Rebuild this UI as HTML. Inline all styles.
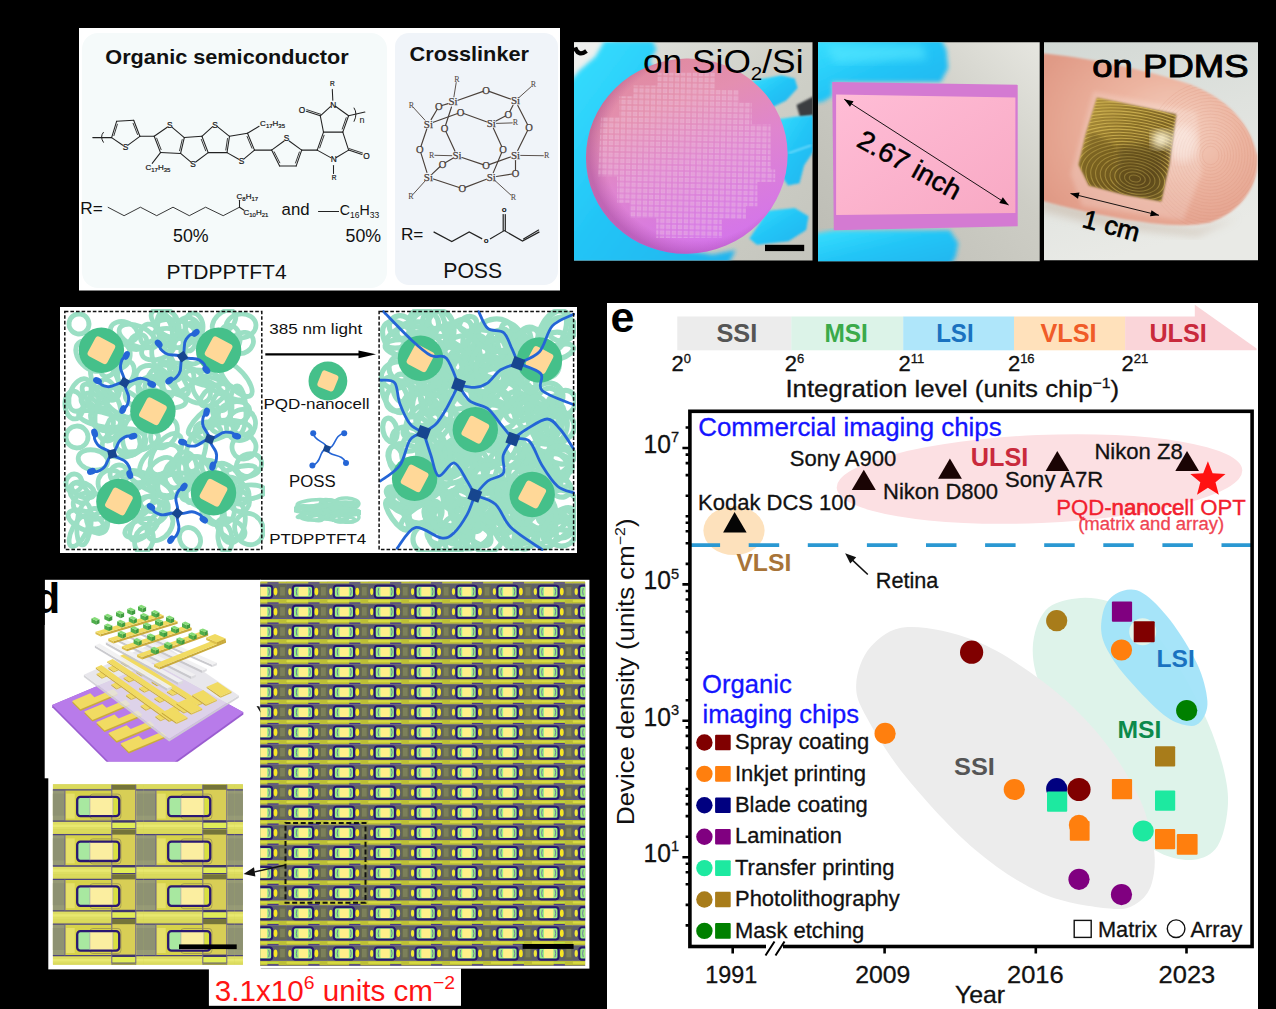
<!DOCTYPE html>
<html>
<head>
<meta charset="utf-8">
<title>Figure</title>
<style>
html,body{margin:0;padding:0;background:#000;}
body{width:1276px;height:1009px;overflow:hidden;position:relative;font-family:"Liberation Sans",sans-serif;}
svg{position:absolute;left:0;top:0;display:block;}
text{font-family:"Liberation Sans",sans-serif;}
.b{font-weight:bold;}
</style>
</head>
<body>
<svg width="1276" height="1009" viewBox="0 0 1276 1009">
<defs>
<filter id="bl1" x="-5%" y="-5%" width="110%" height="110%"><feGaussianBlur stdDeviation="1"/></filter>
<filter id="bl2" x="-5%" y="-5%" width="110%" height="110%"><feGaussianBlur stdDeviation="2"/></filter>
<filter id="bl4" x="-10%" y="-10%" width="120%" height="120%"><feGaussianBlur stdDeviation="4"/></filter>
<filter id="bl8" x="-20%" y="-20%" width="140%" height="140%"><feGaussianBlur stdDeviation="8"/></filter>
</defs>
<rect x="0" y="0" width="1276" height="1009" fill="#000"/>

<!-- ================= PANEL A ================= -->
<g id="panelA">
<rect x="79" y="28" width="481" height="262.5" fill="#fff"/>
<rect x="82" y="33" width="305" height="255" rx="16" fill="#f5fafa"/>
<rect x="395" y="33" width="163" height="252" rx="14" fill="#f0f4f9"/>
<line x1="111.6" y1="137.6" x2="116.6" y2="121.3" stroke="#222" stroke-width="1.05" stroke-linecap="round"/>
<line x1="113.9" y1="135.6" x2="117.4" y2="124.2" stroke="#222" stroke-width="0.9" stroke-linecap="round"/>
<line x1="116.6" y1="121.3" x2="133.7" y2="120.3" stroke="#222" stroke-width="1.05" stroke-linecap="round"/>
<line x1="133.7" y1="120.3" x2="139.9" y2="136.3" stroke="#222" stroke-width="1.05" stroke-linecap="round"/>
<line x1="133.1" y1="123.3" x2="137.5" y2="134.5" stroke="#222" stroke-width="0.9" stroke-linecap="round"/>
<line x1="139.9" y1="136.3" x2="128.0" y2="145.2" stroke="#222" stroke-width="1.05" stroke-linecap="round"/>
<line x1="122.8" y1="145.3" x2="111.6" y2="137.6" stroke="#222" stroke-width="1.05" stroke-linecap="round"/>
<line x1="92.8" y1="137.6" x2="111.6" y2="137.6" stroke="#222" stroke-width="1.05" stroke-linecap="round"/>
<line x1="139.9" y1="136.3" x2="154.2" y2="136.3" stroke="#222" stroke-width="1.05" stroke-linecap="round"/>
<line x1="154.2" y1="136.3" x2="167.2" y2="127.2" stroke="#222" stroke-width="1.05" stroke-linecap="round"/>
<line x1="172.2" y1="127.4" x2="184.3" y2="137.6" stroke="#222" stroke-width="1.05" stroke-linecap="round"/>
<line x1="184.3" y1="137.6" x2="180.6" y2="153.4" stroke="#222" stroke-width="1.05" stroke-linecap="round"/>
<line x1="182.2" y1="139.6" x2="179.6" y2="150.7" stroke="#222" stroke-width="0.9" stroke-linecap="round"/>
<line x1="180.6" y1="153.4" x2="160.5" y2="152.6" stroke="#222" stroke-width="1.05" stroke-linecap="round"/>
<line x1="160.5" y1="152.6" x2="154.2" y2="136.3" stroke="#222" stroke-width="1.05" stroke-linecap="round"/>
<line x1="161.1" y1="149.6" x2="156.7" y2="138.2" stroke="#222" stroke-width="0.9" stroke-linecap="round"/>
<line x1="184.3" y1="137.6" x2="201.9" y2="136.3" stroke="#222" stroke-width="1.05" stroke-linecap="round"/>
<line x1="201.9" y1="136.3" x2="208.2" y2="152.6" stroke="#222" stroke-width="1.05" stroke-linecap="round"/>
<line x1="201.3" y1="139.4" x2="205.7" y2="150.8" stroke="#222" stroke-width="0.9" stroke-linecap="round"/>
<line x1="208.2" y1="152.6" x2="195.7" y2="162.0" stroke="#222" stroke-width="1.05" stroke-linecap="round"/>
<line x1="190.7" y1="161.9" x2="180.6" y2="153.4" stroke="#222" stroke-width="1.05" stroke-linecap="round"/>
<line x1="201.9" y1="136.3" x2="212.6" y2="126.7" stroke="#222" stroke-width="1.05" stroke-linecap="round"/>
<line x1="217.4" y1="126.6" x2="229.5" y2="136.3" stroke="#222" stroke-width="1.05" stroke-linecap="round"/>
<line x1="229.5" y1="136.3" x2="227.0" y2="152.6" stroke="#222" stroke-width="1.05" stroke-linecap="round"/>
<line x1="227.5" y1="138.5" x2="225.8" y2="150.0" stroke="#222" stroke-width="0.9" stroke-linecap="round"/>
<line x1="227.0" y1="152.6" x2="208.2" y2="152.6" stroke="#222" stroke-width="1.05" stroke-linecap="round"/>
<line x1="229.5" y1="136.3" x2="247.5" y2="133.3" stroke="#222" stroke-width="1.05" stroke-linecap="round"/>
<line x1="247.5" y1="133.3" x2="254.5" y2="150.1" stroke="#222" stroke-width="1.05" stroke-linecap="round"/>
<line x1="247.1" y1="136.5" x2="252.0" y2="148.2" stroke="#222" stroke-width="0.9" stroke-linecap="round"/>
<line x1="254.5" y1="150.1" x2="244.0" y2="158.9" stroke="#222" stroke-width="1.05" stroke-linecap="round"/>
<line x1="238.7" y1="159.3" x2="227.0" y2="152.6" stroke="#222" stroke-width="1.05" stroke-linecap="round"/>
<line x1="160.5" y1="152.6" x2="152.2" y2="163.4" stroke="#222" stroke-width="1.05" stroke-linecap="round"/>
<line x1="247.5" y1="133.3" x2="259.1" y2="126.3" stroke="#222" stroke-width="1.05" stroke-linecap="round"/>
<line x1="254.5" y1="150.1" x2="271.6" y2="150.1" stroke="#222" stroke-width="1.05" stroke-linecap="round"/>
<line x1="271.6" y1="150.1" x2="284.1" y2="141.0" stroke="#222" stroke-width="1.05" stroke-linecap="round"/>
<line x1="289.2" y1="141.0" x2="301.7" y2="150.1" stroke="#222" stroke-width="1.05" stroke-linecap="round"/>
<line x1="301.7" y1="150.1" x2="296.2" y2="165.9" stroke="#222" stroke-width="1.05" stroke-linecap="round"/>
<line x1="299.4" y1="152.0" x2="295.5" y2="163.0" stroke="#222" stroke-width="0.9" stroke-linecap="round"/>
<line x1="296.2" y1="165.9" x2="279.6" y2="165.9" stroke="#222" stroke-width="1.05" stroke-linecap="round"/>
<line x1="279.6" y1="165.9" x2="271.6" y2="150.1" stroke="#222" stroke-width="1.05" stroke-linecap="round"/>
<line x1="279.8" y1="162.8" x2="274.2" y2="151.8" stroke="#222" stroke-width="0.9" stroke-linecap="round"/>
<line x1="301.7" y1="150.1" x2="317.2" y2="150.1" stroke="#222" stroke-width="1.05" stroke-linecap="round"/>
<line x1="317.2" y1="150.1" x2="330.7" y2="157.6" stroke="#222" stroke-width="1.05" stroke-linecap="round"/>
<line x1="336.3" y1="157.5" x2="348.6" y2="150.1" stroke="#222" stroke-width="1.05" stroke-linecap="round"/>
<line x1="348.6" y1="150.1" x2="342.8" y2="132.1" stroke="#222" stroke-width="1.05" stroke-linecap="round"/>
<line x1="342.8" y1="132.1" x2="323.5" y2="132.1" stroke="#222" stroke-width="1.05" stroke-linecap="round"/>
<line x1="323.5" y1="132.1" x2="317.2" y2="150.1" stroke="#222" stroke-width="1.05" stroke-linecap="round"/>
<line x1="324.1" y1="135.3" x2="319.7" y2="147.9" stroke="#222" stroke-width="0.9" stroke-linecap="round"/>
<line x1="323.5" y1="132.1" x2="320.3" y2="115.8" stroke="#222" stroke-width="1.05" stroke-linecap="round"/>
<line x1="320.3" y1="115.8" x2="330.4" y2="106.6" stroke="#222" stroke-width="1.05" stroke-linecap="round"/>
<line x1="335.4" y1="106.3" x2="348.6" y2="115.8" stroke="#222" stroke-width="1.05" stroke-linecap="round"/>
<line x1="348.6" y1="115.8" x2="342.8" y2="132.1" stroke="#222" stroke-width="1.05" stroke-linecap="round"/>
<line x1="346.2" y1="117.7" x2="342.2" y2="129.1" stroke="#222" stroke-width="0.9" stroke-linecap="round"/>
<line x1="348.6" y1="150.1" x2="362.0" y2="154.5" stroke="#222" stroke-width="1.05" stroke-linecap="round"/>
<line x1="349.1" y1="148.6" x2="362.5" y2="153.0" stroke="#222" stroke-width="0.9" stroke-linecap="round"/>
<line x1="320.3" y1="115.8" x2="306.3" y2="111.2" stroke="#222" stroke-width="1.05" stroke-linecap="round"/>
<line x1="320.8" y1="114.3" x2="306.8" y2="109.7" stroke="#222" stroke-width="0.9" stroke-linecap="round"/>
<line x1="332.8" y1="100.2" x2="332.3" y2="89.4" stroke="#222" stroke-width="1.05" stroke-linecap="round"/>
<line x1="333.5" y1="165.4" x2="333.5" y2="173.5" stroke="#222" stroke-width="1.05" stroke-linecap="round"/>
<line x1="348.6" y1="115.8" x2="364.9" y2="112.0" stroke="#222" stroke-width="1.05" stroke-linecap="round"/>
<text x="125.4" y="149.9" font-size="8.3" text-anchor="middle" font-weight="normal" fill="#111"  stroke="#222" stroke-width="0.22">S</text>
<text x="169.8" y="128.3" font-size="8.3" text-anchor="middle" font-weight="normal" fill="#111"  stroke="#222" stroke-width="0.22">S</text>
<text x="193.1" y="167.2" font-size="8.3" text-anchor="middle" font-weight="normal" fill="#111"  stroke="#222" stroke-width="0.22">S</text>
<text x="214.9" y="127.6" font-size="8.3" text-anchor="middle" font-weight="normal" fill="#111"  stroke="#222" stroke-width="0.22">S</text>
<text x="241.5" y="164.2" font-size="8.3" text-anchor="middle" font-weight="normal" fill="#111"  stroke="#222" stroke-width="0.22">S</text>
<text x="286.6" y="141.4" font-size="8.3" text-anchor="middle" font-weight="normal" fill="#111"  stroke="#222" stroke-width="0.22">S</text>
<text x="333.3" y="107.5" font-size="8.3" text-anchor="middle" font-weight="normal" fill="#111"  stroke="#222" stroke-width="0.22">N</text>
<text x="333.8" y="162.4" font-size="8.3" text-anchor="middle" font-weight="normal" fill="#111"  stroke="#222" stroke-width="0.22">N</text>
<text x="301.9" y="112.8" font-size="8.3" text-anchor="middle" font-weight="normal" fill="#111"  stroke="#222" stroke-width="0.22">O</text>
<text x="366.4" y="158.7" font-size="8.3" text-anchor="middle" font-weight="normal" fill="#111"  stroke="#222" stroke-width="0.22">O</text>
<text x="332.3" y="86.2" font-size="6.5" text-anchor="middle" font-weight="normal" fill="#111"  stroke="#222" stroke-width="0.22">R</text>
<text x="334.0" y="180.0" font-size="6.5" text-anchor="middle" font-weight="normal" fill="#111"  stroke="#222" stroke-width="0.22">R</text>
<text x="361.9" y="122.5" font-size="9" text-anchor="middle" font-weight="normal" fill="#111" >n</text>
<text x="145.5" y="170.4" font-size="8" text-anchor="start" font-weight="normal" fill="#111" stroke="#222" stroke-width="0.2">C<tspan font-size="6" dy="1.8">17</tspan><tspan dy="-1.8">H</tspan><tspan font-size="6" dy="1.8">35</tspan></text>
<text x="260.1" y="126.3" font-size="8" text-anchor="start" font-weight="normal" fill="#111" stroke="#222" stroke-width="0.2">C<tspan font-size="6" dy="1.8">17</tspan><tspan dy="-1.8">H</tspan><tspan font-size="6" dy="1.8">35</tspan></text>
<path d="M103.6,132.1 q-4,4.5 0,10.5" fill="none" stroke="#222" stroke-width="1"/>
<path d="M353.9,107.7 q4,6 0,14" fill="none" stroke="#222" stroke-width="1"/>
<text x="105.3" y="63.9" font-size="21" text-anchor="start" font-weight="bold" fill="#111" textLength="243.3" lengthAdjust="spacingAndGlyphs">Organic semiconductor</text>
<text x="80.3" y="213.5" font-size="17.2" text-anchor="start" font-weight="normal" fill="#111" >R=</text>
<path d="M107.8,207.2 L124.1,215.7 L140.4,207.2 L156.7,215.7 L173.0,207.2 L189.3,215.7 L205.6,207.2 L223.2,215.7 L239.5,207.2" fill="none" stroke="#222" stroke-width="0.9"/>
<line x1="239.5" y1="207.2" x2="239.5" y2="200.2" stroke="#222" stroke-width="1.05" stroke-linecap="round"/>
<line x1="239.5" y1="207.2" x2="244.0" y2="210.2" stroke="#222" stroke-width="1.05" stroke-linecap="round"/>
<text x="236.5" y="199.2" font-size="8" text-anchor="start" font-weight="normal" fill="#111" stroke="#222" stroke-width="0.2">C<tspan font-size="6" dy="1.8">8</tspan><tspan dy="-1.8">H</tspan><tspan font-size="6" dy="1.8">17</tspan></text>
<text x="243.5" y="214.7" font-size="8" text-anchor="start" font-weight="normal" fill="#111" stroke="#222" stroke-width="0.2">C<tspan font-size="6" dy="1.8">10</tspan><tspan dy="-1.8">H</tspan><tspan font-size="6" dy="1.8">21</tspan></text>
<text x="281.6" y="214.7" font-size="16.8" text-anchor="start" font-weight="normal" fill="#111" >and</text>
<line x1="318.5" y1="211.5" x2="338.6" y2="211.5" stroke="#222" stroke-width="1" stroke-linecap="round"/>
<text x="339.8" y="214.5" font-size="14.2" text-anchor="start" font-weight="normal" fill="#111" >C<tspan font-size="8.5" dy="3">16</tspan><tspan dy="-3">H</tspan><tspan font-size="8.5" dy="3">33</tspan></text>
<text x="190.8" y="241.6" font-size="17.8" text-anchor="middle" font-weight="normal" fill="#111" >50%</text>
<text x="363.4" y="241.6" font-size="17.8" text-anchor="middle" font-weight="normal" fill="#111" >50%</text>
<text x="226.5" y="278.7" font-size="21" text-anchor="middle" font-weight="normal" fill="#111" >PTDPPTFT4</text><line x1="458.0" y1="100.3" x2="483.1" y2="91.4" stroke="#4a403a" stroke-width="1.15" stroke-linecap="round"/>
<line x1="510.6" y1="99.0" x2="489.1" y2="91.4" stroke="#4a403a" stroke-width="1.15" stroke-linecap="round"/>
<text x="486.1" y="93.7" font-size="10.5" text-anchor="middle" font-weight="normal" fill="#4a403a" style="font-family:'Liberation Serif',serif" stroke="#4a403a" stroke-width="0.25">O</text>
<line x1="431.1" y1="119.6" x2="437.2" y2="109.2" stroke="#4a403a" stroke-width="1.15" stroke-linecap="round"/>
<line x1="448.1" y1="103.6" x2="441.9" y2="105.5" stroke="#4a403a" stroke-width="1.15" stroke-linecap="round"/>
<text x="438.8" y="109.8" font-size="10.5" text-anchor="middle" font-weight="normal" fill="#4a403a" style="font-family:'Liberation Serif',serif" stroke="#4a403a" stroke-width="0.25">O</text>
<line x1="433.3" y1="122.3" x2="457.6" y2="113.5" stroke="#4a403a" stroke-width="1.15" stroke-linecap="round"/>
<line x1="486.4" y1="121.8" x2="463.7" y2="113.5" stroke="#4a403a" stroke-width="1.15" stroke-linecap="round"/>
<text x="460.6" y="115.8" font-size="10.5" text-anchor="middle" font-weight="normal" fill="#4a403a" style="font-family:'Liberation Serif',serif" stroke="#4a403a" stroke-width="0.25">O</text>
<line x1="495.9" y1="121.1" x2="505.4" y2="116.0" stroke="#4a403a" stroke-width="1.15" stroke-linecap="round"/>
<line x1="513.0" y1="105.3" x2="509.7" y2="111.7" stroke="#4a403a" stroke-width="1.15" stroke-linecap="round"/>
<text x="508.2" y="117.9" font-size="10.5" text-anchor="middle" font-weight="normal" fill="#4a403a" style="font-family:'Liberation Serif',serif" stroke="#4a403a" stroke-width="0.25">O</text>
<line x1="517.8" y1="105.4" x2="527.5" y2="124.6" stroke="#4a403a" stroke-width="1.15" stroke-linecap="round"/>
<line x1="517.7" y1="150.6" x2="527.6" y2="130.4" stroke="#4a403a" stroke-width="1.15" stroke-linecap="round"/>
<text x="529.0" y="130.9" font-size="10.5" text-anchor="middle" font-weight="normal" fill="#4a403a" style="font-family:'Liberation Serif',serif" stroke="#4a403a" stroke-width="0.25">O</text>
<line x1="451.5" y1="107.0" x2="445.5" y2="125.5" stroke="#4a403a" stroke-width="1.15" stroke-linecap="round"/>
<line x1="454.9" y1="151.1" x2="445.9" y2="131.4" stroke="#4a403a" stroke-width="1.15" stroke-linecap="round"/>
<text x="444.5" y="131.9" font-size="10.5" text-anchor="middle" font-weight="normal" fill="#4a403a" style="font-family:'Liberation Serif',serif" stroke="#4a403a" stroke-width="0.25">O</text>
<line x1="426.8" y1="129.0" x2="420.9" y2="146.5" stroke="#4a403a" stroke-width="1.15" stroke-linecap="round"/>
<line x1="426.9" y1="172.4" x2="420.8" y2="152.6" stroke="#4a403a" stroke-width="1.15" stroke-linecap="round"/>
<text x="419.9" y="153.0" font-size="10.5" text-anchor="middle" font-weight="normal" fill="#4a403a" style="font-family:'Liberation Serif',serif" stroke="#4a403a" stroke-width="0.25">O</text>
<line x1="493.4" y1="128.3" x2="501.7" y2="146.6" stroke="#4a403a" stroke-width="1.15" stroke-linecap="round"/>
<line x1="493.3" y1="172.6" x2="501.7" y2="152.5" stroke="#4a403a" stroke-width="1.15" stroke-linecap="round"/>
<text x="503.0" y="153.0" font-size="10.5" text-anchor="middle" font-weight="normal" fill="#4a403a" style="font-family:'Liberation Serif',serif" stroke="#4a403a" stroke-width="0.25">O</text>
<line x1="432.3" y1="173.8" x2="440.1" y2="166.5" stroke="#4a403a" stroke-width="1.15" stroke-linecap="round"/>
<line x1="452.5" y1="158.4" x2="445.2" y2="162.7" stroke="#4a403a" stroke-width="1.15" stroke-linecap="round"/>
<text x="442.5" y="167.8" font-size="10.5" text-anchor="middle" font-weight="normal" fill="#4a403a" style="font-family:'Liberation Serif',serif" stroke="#4a403a" stroke-width="0.25">O</text>
<line x1="461.9" y1="157.5" x2="483.1" y2="164.6" stroke="#4a403a" stroke-width="1.15" stroke-linecap="round"/>
<line x1="510.6" y1="157.0" x2="489.1" y2="164.6" stroke="#4a403a" stroke-width="1.15" stroke-linecap="round"/>
<text x="486.1" y="169.1" font-size="10.5" text-anchor="middle" font-weight="normal" fill="#4a403a" style="font-family:'Liberation Serif',serif" stroke="#4a403a" stroke-width="0.25">O</text>
<line x1="496.4" y1="176.5" x2="512.3" y2="174.0" stroke="#4a403a" stroke-width="1.15" stroke-linecap="round"/>
<line x1="515.5" y1="160.5" x2="515.5" y2="170.3" stroke="#4a403a" stroke-width="1.15" stroke-linecap="round"/>
<text x="515.5" y="176.9" font-size="10.5" text-anchor="middle" font-weight="normal" fill="#4a403a" style="font-family:'Liberation Serif',serif" stroke="#4a403a" stroke-width="0.25">O</text>
<line x1="433.4" y1="179.0" x2="459.2" y2="187.5" stroke="#4a403a" stroke-width="1.15" stroke-linecap="round"/>
<line x1="486.4" y1="179.2" x2="465.2" y2="187.4" stroke="#4a403a" stroke-width="1.15" stroke-linecap="round"/>
<text x="462.2" y="191.9" font-size="10.5" text-anchor="middle" font-weight="normal" fill="#4a403a" style="font-family:'Liberation Serif',serif" stroke="#4a403a" stroke-width="0.25">O</text>
<text x="453.1" y="105.4" font-size="11" text-anchor="middle" font-weight="normal" fill="#4a403a" style="font-family:'Liberation Serif',serif" stroke="#4a403a" stroke-width="0.25">Si</text>
<text x="515.5" y="104.1" font-size="11" text-anchor="middle" font-weight="normal" fill="#4a403a" style="font-family:'Liberation Serif',serif" stroke="#4a403a" stroke-width="0.25">Si</text>
<text x="428.4" y="127.5" font-size="11" text-anchor="middle" font-weight="normal" fill="#4a403a" style="font-family:'Liberation Serif',serif" stroke="#4a403a" stroke-width="0.25">Si</text>
<text x="491.3" y="127.0" font-size="11" text-anchor="middle" font-weight="normal" fill="#4a403a" style="font-family:'Liberation Serif',serif" stroke="#4a403a" stroke-width="0.25">Si</text>
<text x="457.0" y="159.2" font-size="11" text-anchor="middle" font-weight="normal" fill="#4a403a" style="font-family:'Liberation Serif',serif" stroke="#4a403a" stroke-width="0.25">Si</text>
<text x="515.5" y="158.7" font-size="11" text-anchor="middle" font-weight="normal" fill="#4a403a" style="font-family:'Liberation Serif',serif" stroke="#4a403a" stroke-width="0.25">Si</text>
<text x="428.4" y="180.8" font-size="11" text-anchor="middle" font-weight="normal" fill="#4a403a" style="font-family:'Liberation Serif',serif" stroke="#4a403a" stroke-width="0.25">Si</text>
<text x="491.3" y="180.8" font-size="11" text-anchor="middle" font-weight="normal" fill="#4a403a" style="font-family:'Liberation Serif',serif" stroke="#4a403a" stroke-width="0.25">Si</text>
<line x1="453.9" y1="96.9" x2="456.2" y2="82.6" stroke="#4a403a" stroke-width="0.9" stroke-linecap="round"/>
<text x="456.8" y="82.0" font-size="8" text-anchor="middle" font-weight="normal" fill="#4a403a" style="font-family:'Liberation Serif',serif" >R</text>
<line x1="519.3" y1="97.3" x2="531.0" y2="86.8" stroke="#4a403a" stroke-width="0.9" stroke-linecap="round"/>
<text x="533.4" y="87.2" font-size="8" text-anchor="middle" font-weight="normal" fill="#4a403a" style="font-family:'Liberation Serif',serif" >R</text>
<line x1="425.0" y1="120.2" x2="413.4" y2="107.5" stroke="#4a403a" stroke-width="0.9" stroke-linecap="round"/>
<text x="411.3" y="107.7" font-size="8" text-anchor="middle" font-weight="normal" fill="#4a403a" style="font-family:'Liberation Serif',serif" >R</text>
<line x1="496.5" y1="123.4" x2="512.3" y2="122.9" stroke="#4a403a" stroke-width="0.9" stroke-linecap="round"/>
<text x="515.5" y="125.4" font-size="8" text-anchor="middle" font-weight="normal" fill="#4a403a" style="font-family:'Liberation Serif',serif" >R</text>
<line x1="451.8" y1="155.7" x2="434.8" y2="155.3" stroke="#4a403a" stroke-width="0.9" stroke-linecap="round"/>
<text x="431.6" y="157.9" font-size="8" text-anchor="middle" font-weight="normal" fill="#4a403a" style="font-family:'Liberation Serif',serif" >R</text>
<line x1="520.7" y1="155.4" x2="543.4" y2="155.7" stroke="#4a403a" stroke-width="0.9" stroke-linecap="round"/>
<text x="546.6" y="158.4" font-size="8" text-anchor="middle" font-weight="normal" fill="#4a403a" style="font-family:'Liberation Serif',serif" >R</text>
<line x1="424.9" y1="181.2" x2="412.9" y2="194.5" stroke="#4a403a" stroke-width="0.9" stroke-linecap="round"/>
<text x="410.8" y="199.4" font-size="8" text-anchor="middle" font-weight="normal" fill="#4a403a" style="font-family:'Liberation Serif',serif" >R</text>
<line x1="495.2" y1="180.8" x2="511.0" y2="195.2" stroke="#4a403a" stroke-width="0.9" stroke-linecap="round"/>
<text x="513.4" y="200.0" font-size="8" text-anchor="middle" font-weight="normal" fill="#4a403a" style="font-family:'Liberation Serif',serif" >R</text>
<text x="409.5" y="61.2" font-size="21" font-weight="bold" fill="#111" textLength="119.5" lengthAdjust="spacingAndGlyphs">Crosslinker</text>
<text x="400.9" y="239.7" font-size="17.2" fill="#111">R=</text>
<path d="M433.6,231.9 L451.8,241.5 L469.2,231.9 L482.2,238.9" fill="none" stroke="#222" stroke-width="1.2"/>
<text x="486.1" y="243.1" font-size="8" font-weight="bold" text-anchor="middle" fill="#111">o</text>
<path d="M490.0,238.9 L504.3,230.6 L522.5,241.0 L539.4,231.9" fill="none" stroke="#222" stroke-width="1.2"/>
<line x1="523.5" y1="238.9" x2="538.6" y2="230.1" stroke="#222" stroke-width="1.2" stroke-linecap="round"/>
<line x1="503.2" y1="230.6" x2="503.2" y2="214.5" stroke="#222" stroke-width="1.2" stroke-linecap="round"/>
<line x1="505.3" y1="230.6" x2="505.3" y2="214.5" stroke="#222" stroke-width="1.2" stroke-linecap="round"/>
<text x="504.3" y="211.9" font-size="8" font-weight="bold" text-anchor="middle" fill="#111">o</text>
<text x="472.7" y="277.9" font-size="21.2" text-anchor="middle" fill="#111">POSS</text>
</g>

<!-- ================= PANEL C ================= -->
<g id="panelC">
<defs>
<clipPath id="cp1"><rect x="574" y="42.3" width="238.5" height="218.2"/></clipPath>
<clipPath id="cp2"><rect x="818" y="42.3" width="221.7" height="219"/></clipPath>
<clipPath id="cp3"><rect x="1044" y="42.3" width="214" height="218"/></clipPath>
<linearGradient id="waferG" x1="0.3" y1="0" x2="0.45" y2="1">
<stop offset="0" stop-color="#e08aa0"/><stop offset="0.25" stop-color="#e48fb0"/><stop offset="0.55" stop-color="#df85cf"/><stop offset="1" stop-color="#d474ea"/>
</linearGradient>
<radialGradient id="waferEdge" cx="0.56" cy="0.48" r="0.54"><stop offset="0.86" stop-color="#903080" stop-opacity="0"/><stop offset="1" stop-color="#802878" stop-opacity="0.32"/></radialGradient>
<pattern id="grid" x="0" y="0" width="5.9" height="5.9" patternUnits="userSpaceOnUse">
<rect x="0.7" y="0.7" width="4.5" height="4.5" fill="#fff" fill-opacity="0.27"/>
<path d="M2.95,0.7 v4.5 M0.7,2.95 h4.5" stroke="#e58ac6" stroke-opacity="0.5" stroke-width="0.5"/>
</pattern>
<linearGradient id="bgG1" x1="0" y1="0" x2="1" y2="1"><stop offset="0" stop-color="#e4e6e2"/><stop offset="0.5" stop-color="#cfd0c8"/><stop offset="1" stop-color="#c4c5bd"/></linearGradient>
<linearGradient id="bgG2" x1="0" y1="1" x2="1" y2="0"><stop offset="0" stop-color="#bcbcb4"/><stop offset="0.6" stop-color="#cdcdc5"/><stop offset="1" stop-color="#e6e6e0"/></linearGradient>
<linearGradient id="bgG3" x1="0" y1="0" x2="0.3" y2="1"><stop offset="0" stop-color="#d2d8d4"/><stop offset="0.5" stop-color="#dfe2de"/><stop offset="1" stop-color="#e9eae6"/></linearGradient>
<linearGradient id="gloveG" x1="0" y1="0" x2="1" y2="1"><stop offset="0" stop-color="#38e0ff"/><stop offset="0.5" stop-color="#22c4f6"/><stop offset="1" stop-color="#20b4ee"/></linearGradient>
<radialGradient id="fingerG" cx="0.62" cy="0.45" r="0.7"><stop offset="0" stop-color="#f6d2c2"/><stop offset="0.45" stop-color="#ecb4a0"/><stop offset="1" stop-color="#e09a86"/></radialGradient>
<linearGradient id="goldG" x1="0" y1="0" x2="1" y2="1"><stop offset="0" stop-color="#b89a40"/><stop offset="0.4" stop-color="#8a7028"/><stop offset="0.75" stop-color="#6e5620"/><stop offset="1" stop-color="#8f7830"/></linearGradient>
<linearGradient id="chipG" x1="0" y1="0" x2="1" y2="1"><stop offset="0" stop-color="#ffbdd6"/><stop offset="1" stop-color="#f8a9c4"/></linearGradient>
</defs>
<g clip-path="url(#cp1)">
<rect x="574" y="42" width="239" height="219" fill="url(#bgG1)"/>
<path d="M572.3,40.6 L616.0,40.6 L597.6,59.0 L583.8,75.1 L572.3,79.7Z" fill="#eef0ee" filter="url(#bl2)"/>
<path d="M796.5,105.0 L813.8,96.3 L813.8,115.3 L800.0,117.0Z" fill="#3a3c40" filter="url(#bl1)"/>
<path d="M806.9,144.1 L813.8,141.8 L813.8,149.8 L806.9,148.7Z" fill="#4a4c50" filter="url(#bl1)"/>
<path d="M604.5,40.6 L652.3,40.6 L656.5,49.3 L649.3,61.8 L685.0,105.0 L685.0,249.9 L712.6,254.5 L735.6,249.9 L728.7,263.7 L570.0,263.7 L570.0,82.0 L579.2,70.5 L595.3,56.7Z" fill="url(#gloveG)" filter="url(#bl2)"/>
<path d="M751.7,80.8 L781.4,75.3 L794.7,78.5 L797.7,88.0 L786.2,100.6 L772.4,107.3 L765.5,105.0Z" fill="url(#gloveG)" filter="url(#bl1)"/>
<path d="M772.4,119.9 L797.0,116.5 L816.1,115.3 L816.1,147.5 L804.1,165.5 L799.5,183.2 L788.0,185.5 L780.4,174.0 L777.0,146.4Z" fill="url(#gloveG)" filter="url(#bl1)"/>
<path d="M788.5,153.3 L811.5,145.2" stroke="#9fe8ff" stroke-width="1.2" fill="none" filter="url(#bl1)"/>
<path d="M767.8,210.8 L794.7,208.0 L808.5,216.3 L806.2,230.1 L788.5,241.2 L756.8,244.8 L749.4,238.4Z" fill="url(#gloveG)" filter="url(#bl1)"/>
<g transform="rotate(-12 686.8 156.1)"><ellipse cx="686.8" cy="156.1" rx="101" ry="97.5" fill="url(#waferG)"/><ellipse cx="686.8" cy="156.1" rx="101" ry="97.5" fill="url(#waferEdge)"/></g>
<clipPath id="gridcp"><path d="M657.4,72.8 L714.9,72.8 L714.9,90.0 L739.0,90.0 L739.0,102.7 L751.7,102.7 L751.7,124.5 L770.6,124.5 L770.6,169.4 L775.2,169.4 L775.2,182.0 L757.4,182.0 L757.4,206.2 L745.9,206.2 L745.9,218.8 L721.8,218.8 L721.8,237.9 L656.2,237.9 L656.2,217.7 L629.8,217.7 L629.8,202.7 L617.1,202.7 L617.1,176.3 L598.1,176.3 L601.0,117.6 L619.4,117.6 L619.4,96.3 L633.2,96.3 L633.2,85.4 L657.4,85.4Z"/></clipPath>
<g clip-path="url(#gridcp)"><rect x="590" y="60" width="200" height="190" fill="url(#grid)" transform="rotate(1.2 686 155)"/></g>
<text x="643" y="73.3" font-size="32.5" fill="#000" textLength="160.5" lengthAdjust="spacingAndGlyphs">on SiO<tspan font-size="19" dy="7">2</tspan><tspan dy="-7">/Si</tspan></text>
<path d="M575,47.5 q3.5,9.5 11.5,3.5" fill="none" stroke="#000" stroke-width="4.4"/>
<rect x="765" y="244.8" width="39.2" height="6.3" fill="#000"/>
</g>
<g clip-path="url(#cp2)">
<rect x="818" y="42" width="222" height="220" fill="url(#bgG2)"/>
<path d="M814.3,38.3 L940.7,38.3 L946.5,49.8 L948.1,68.2 L940.7,82.0 L832.2,82.0 L832.2,95.8 L823.5,101.5 L814.3,102.7Z" fill="url(#gloveG)" filter="url(#bl2)"/>
<path d="M825.8,45.2 L922.3,45.2 L926.9,59.0 L835.0,63.6Z" fill="#5ae8ff" opacity="0.6" filter="url(#bl4)"/>
<path d="M814.3,233.7 L833.8,230.3 L949.9,230.3 L958.2,242.9 L955.7,256.7 L949.9,265.9 L814.3,265.9Z" fill="url(#gloveG)" filter="url(#bl2)"/>
<path d="M832.2,82.0 L1017.7,84.7 L1017.7,226.3 L833.8,230.3Z" fill="#d47ad2"/>
<path d="M836.1,94.6 L1015.4,97.6 L1015.4,213.0 L836.1,214.9Z" fill="url(#chipG)"/>
<line x1="844.2" y1="99.2" x2="1008.6" y2="205.0" stroke="#000" stroke-width="0.9"/>
<path d="M0,0 L9,-3.3 L9,3.3Z" fill="#000" transform="translate(844.2 99.2) rotate(32.8)"/>
<path d="M0,0 L-9,-3.3 L-9,3.3Z" fill="#000" transform="translate(1008.6 205.0) rotate(32.8)"/>
<text x="0" y="0" font-size="27" text-anchor="middle" fill="#000" stroke="#000" stroke-width="0.5" textLength="114" lengthAdjust="spacingAndGlyphs" transform="translate(905.1 173.0) rotate(28.8)">2.67 inch</text>
</g>
<g clip-path="url(#cp3)">
<rect x="1044" y="42" width="214" height="219" fill="url(#bgG3)"/>
<path d="M1040.6,196.9 L1128.0,219.9 L1196.9,229.1 L1238.3,217.6 L1196.9,236.0 L1105.0,226.8 L1040.6,210.7Z" fill="#c8b8a8" opacity="0.6" filter="url(#bl4)"/>
<path d="M1040.6,53.2 C1082.0,56.7 1139.4,68.2 1183.1,82.0 C1219.9,93.5 1249.8,118.8 1257.1,155.5 C1260.1,183.1 1242.9,210.7 1210.7,222.2 C1173.9,231.4 1105.0,217.6 1040.6,200.4 Z" fill="url(#fingerG)" filter="url(#bl1)"/>
<ellipse cx="1210.7" cy="155.5" rx="8.3" ry="9.2" fill="none" stroke="#d89078" stroke-opacity="0.35" stroke-width="0.6" clip-path="url(#fingcp)"/>
<ellipse cx="1210.7" cy="155.5" rx="11.2" ry="12.4" fill="none" stroke="#d89078" stroke-opacity="0.35" stroke-width="0.6" clip-path="url(#fingcp)"/>
<ellipse cx="1210.7" cy="155.5" rx="14.1" ry="15.6" fill="none" stroke="#d89078" stroke-opacity="0.35" stroke-width="0.6" clip-path="url(#fingcp)"/>
<ellipse cx="1210.7" cy="155.5" rx="17.0" ry="18.9" fill="none" stroke="#d89078" stroke-opacity="0.35" stroke-width="0.6" clip-path="url(#fingcp)"/>
<ellipse cx="1210.7" cy="155.5" rx="19.9" ry="22.1" fill="none" stroke="#d89078" stroke-opacity="0.35" stroke-width="0.6" clip-path="url(#fingcp)"/>
<ellipse cx="1210.7" cy="155.5" rx="22.8" ry="25.3" fill="none" stroke="#d89078" stroke-opacity="0.35" stroke-width="0.6" clip-path="url(#fingcp)"/>
<ellipse cx="1210.7" cy="155.5" rx="25.7" ry="28.5" fill="none" stroke="#d89078" stroke-opacity="0.35" stroke-width="0.6" clip-path="url(#fingcp)"/>
<ellipse cx="1210.7" cy="155.5" rx="28.6" ry="31.7" fill="none" stroke="#d89078" stroke-opacity="0.35" stroke-width="0.6" clip-path="url(#fingcp)"/>
<ellipse cx="1210.7" cy="155.5" rx="31.4" ry="34.9" fill="none" stroke="#d89078" stroke-opacity="0.35" stroke-width="0.6" clip-path="url(#fingcp)"/>
<ellipse cx="1210.7" cy="155.5" rx="34.3" ry="38.2" fill="none" stroke="#d89078" stroke-opacity="0.35" stroke-width="0.6" clip-path="url(#fingcp)"/>
<ellipse cx="1210.7" cy="155.5" rx="37.2" ry="41.4" fill="none" stroke="#d89078" stroke-opacity="0.35" stroke-width="0.6" clip-path="url(#fingcp)"/>
<ellipse cx="1210.7" cy="155.5" rx="40.1" ry="44.6" fill="none" stroke="#d89078" stroke-opacity="0.35" stroke-width="0.6" clip-path="url(#fingcp)"/>
<ellipse cx="1210.7" cy="155.5" rx="43.0" ry="47.8" fill="none" stroke="#d89078" stroke-opacity="0.35" stroke-width="0.6" clip-path="url(#fingcp)"/>
<ellipse cx="1210.7" cy="155.5" rx="45.9" ry="51.0" fill="none" stroke="#d89078" stroke-opacity="0.35" stroke-width="0.6" clip-path="url(#fingcp)"/>
<ellipse cx="1210.7" cy="155.5" rx="48.8" ry="54.3" fill="none" stroke="#d89078" stroke-opacity="0.35" stroke-width="0.6" clip-path="url(#fingcp)"/>
<ellipse cx="1210.7" cy="155.5" rx="51.7" ry="57.5" fill="none" stroke="#d89078" stroke-opacity="0.35" stroke-width="0.6" clip-path="url(#fingcp)"/>
<ellipse cx="1210.7" cy="155.5" rx="54.6" ry="60.7" fill="none" stroke="#d89078" stroke-opacity="0.35" stroke-width="0.6" clip-path="url(#fingcp)"/>
<ellipse cx="1210.7" cy="155.5" rx="57.5" ry="63.9" fill="none" stroke="#d89078" stroke-opacity="0.35" stroke-width="0.6" clip-path="url(#fingcp)"/>
<ellipse cx="1210.7" cy="155.5" rx="60.4" ry="67.1" fill="none" stroke="#d89078" stroke-opacity="0.35" stroke-width="0.6" clip-path="url(#fingcp)"/>
<ellipse cx="1210.7" cy="155.5" rx="63.3" ry="70.3" fill="none" stroke="#d89078" stroke-opacity="0.35" stroke-width="0.6" clip-path="url(#fingcp)"/>
<ellipse cx="1210.7" cy="155.5" rx="66.2" ry="73.6" fill="none" stroke="#d89078" stroke-opacity="0.35" stroke-width="0.6" clip-path="url(#fingcp)"/>
<clipPath id="fingcp"><path d="M1040.6,53.2 C1082.0,56.7 1139.4,68.2 1183.1,82.0 C1219.9,93.5 1249.8,118.8 1257.1,155.5 C1260.1,183.1 1242.9,210.7 1210.7,222.2 C1173.9,231.4 1105.0,217.6 1040.6,200.4 Z"/></clipPath>
<path d="M1070.5,173.9 L1093.5,91.2 L1196.9,111.9 L1201.5,173.9 L1183.1,219.9 L1082.0,206.1Z" fill="#fff" opacity="0.18" filter="url(#bl2)"/>
<clipPath id="goldcp"><path d="M1096.9,97.6 L1137.1,106.1 L1176.2,114.2 L1169.3,164.7 L1161.3,201.5 L1123.4,194.6 L1088.9,185.4 L1078.5,164.7 L1085.4,134.9Z"/></clipPath>
<path d="M1096.9,97.6 L1137.1,106.1 L1176.2,114.2 L1169.3,164.7 L1161.3,201.5 L1123.4,194.6 L1088.9,185.4 L1078.5,164.7 L1085.4,134.9Z" fill="url(#goldG)" filter="url(#bl1)"/>
<g clip-path="url(#goldcp)">
<ellipse cx="1134.9" cy="178.5" rx="5.7" ry="3.4" fill="none" stroke="#d9bc58" stroke-opacity="0.75" stroke-width="1.1" transform="rotate(12 1134.9 178.5)"/>
<ellipse cx="1134.9" cy="178.5" rx="10.6" ry="6.4" fill="none" stroke="#d9bc58" stroke-opacity="0.75" stroke-width="1.1" transform="rotate(12 1134.9 178.5)"/>
<ellipse cx="1134.9" cy="178.5" rx="15.5" ry="9.3" fill="none" stroke="#d9bc58" stroke-opacity="0.75" stroke-width="1.1" transform="rotate(12 1134.9 178.5)"/>
<ellipse cx="1134.9" cy="178.5" rx="20.4" ry="12.2" fill="none" stroke="#d9bc58" stroke-opacity="0.75" stroke-width="1.1" transform="rotate(12 1134.9 178.5)"/>
<ellipse cx="1134.9" cy="178.5" rx="25.3" ry="15.2" fill="none" stroke="#d9bc58" stroke-opacity="0.75" stroke-width="1.1" transform="rotate(12 1134.9 178.5)"/>
<ellipse cx="1134.9" cy="178.5" rx="30.2" ry="18.1" fill="none" stroke="#d9bc58" stroke-opacity="0.75" stroke-width="1.1" transform="rotate(12 1134.9 178.5)"/>
<ellipse cx="1134.9" cy="178.5" rx="35.1" ry="21.0" fill="none" stroke="#d9bc58" stroke-opacity="0.75" stroke-width="1.1" transform="rotate(12 1134.9 178.5)"/>
<ellipse cx="1134.9" cy="178.5" rx="39.9" ry="24.0" fill="none" stroke="#d9bc58" stroke-opacity="0.75" stroke-width="1.1" transform="rotate(12 1134.9 178.5)"/>
<ellipse cx="1134.9" cy="178.5" rx="44.8" ry="26.9" fill="none" stroke="#d9bc58" stroke-opacity="0.75" stroke-width="1.1" transform="rotate(12 1134.9 178.5)"/>
<ellipse cx="1134.9" cy="178.5" rx="49.7" ry="29.8" fill="none" stroke="#d9bc58" stroke-opacity="0.75" stroke-width="1.1" transform="rotate(12 1134.9 178.5)"/>
<ellipse cx="1134.9" cy="178.5" rx="54.6" ry="32.8" fill="none" stroke="#d9bc58" stroke-opacity="0.75" stroke-width="1.1" transform="rotate(12 1134.9 178.5)"/>
<ellipse cx="1134.9" cy="178.5" rx="59.5" ry="35.7" fill="none" stroke="#d9bc58" stroke-opacity="0.75" stroke-width="1.1" transform="rotate(12 1134.9 178.5)"/>
<ellipse cx="1134.9" cy="178.5" rx="64.4" ry="38.6" fill="none" stroke="#d9bc58" stroke-opacity="0.75" stroke-width="1.1" transform="rotate(12 1134.9 178.5)"/>
<ellipse cx="1134.9" cy="178.5" rx="69.3" ry="41.6" fill="none" stroke="#d9bc58" stroke-opacity="0.75" stroke-width="1.1" transform="rotate(12 1134.9 178.5)"/>
<ellipse cx="1134.9" cy="178.5" rx="74.1" ry="44.5" fill="none" stroke="#d9bc58" stroke-opacity="0.75" stroke-width="1.1" transform="rotate(12 1134.9 178.5)"/>
<ellipse cx="1134.9" cy="178.5" rx="79.0" ry="47.4" fill="none" stroke="#d9bc58" stroke-opacity="0.75" stroke-width="1.1" transform="rotate(12 1134.9 178.5)"/>
<ellipse cx="1134.9" cy="178.5" rx="83.9" ry="50.3" fill="none" stroke="#d9bc58" stroke-opacity="0.75" stroke-width="1.1" transform="rotate(12 1134.9 178.5)"/>
<ellipse cx="1134.9" cy="178.5" rx="88.8" ry="53.3" fill="none" stroke="#d9bc58" stroke-opacity="0.75" stroke-width="1.1" transform="rotate(12 1134.9 178.5)"/>
<ellipse cx="1134.9" cy="178.5" rx="93.7" ry="56.2" fill="none" stroke="#d9bc58" stroke-opacity="0.75" stroke-width="1.1" transform="rotate(12 1134.9 178.5)"/>
<ellipse cx="1134.9" cy="178.5" rx="98.6" ry="59.1" fill="none" stroke="#d9bc58" stroke-opacity="0.75" stroke-width="1.1" transform="rotate(12 1134.9 178.5)"/>
<ellipse cx="1134.9" cy="178.5" rx="103.4" ry="62.1" fill="none" stroke="#d9bc58" stroke-opacity="0.75" stroke-width="1.1" transform="rotate(12 1134.9 178.5)"/>
<ellipse cx="1134.9" cy="178.5" rx="108.3" ry="65.0" fill="none" stroke="#d9bc58" stroke-opacity="0.75" stroke-width="1.1" transform="rotate(12 1134.9 178.5)"/>
<ellipse cx="1134.9" cy="178.5" rx="113.2" ry="67.9" fill="none" stroke="#d9bc58" stroke-opacity="0.75" stroke-width="1.1" transform="rotate(12 1134.9 178.5)"/>
<ellipse cx="1134.9" cy="178.5" rx="118.1" ry="70.9" fill="none" stroke="#d9bc58" stroke-opacity="0.75" stroke-width="1.1" transform="rotate(12 1134.9 178.5)"/>
<ellipse cx="1134.9" cy="178.5" rx="123.0" ry="73.8" fill="none" stroke="#d9bc58" stroke-opacity="0.75" stroke-width="1.1" transform="rotate(12 1134.9 178.5)"/>
<ellipse cx="1134.9" cy="178.5" rx="127.9" ry="76.7" fill="none" stroke="#d9bc58" stroke-opacity="0.75" stroke-width="1.1" transform="rotate(12 1134.9 178.5)"/>
<ellipse cx="1134.9" cy="178.5" rx="132.8" ry="79.7" fill="none" stroke="#d9bc58" stroke-opacity="0.75" stroke-width="1.1" transform="rotate(12 1134.9 178.5)"/>
<ellipse cx="1134.9" cy="178.5" rx="137.6" ry="82.6" fill="none" stroke="#d9bc58" stroke-opacity="0.75" stroke-width="1.1" transform="rotate(12 1134.9 178.5)"/>
<ellipse cx="1134.9" cy="178.5" rx="142.5" ry="85.5" fill="none" stroke="#d9bc58" stroke-opacity="0.75" stroke-width="1.1" transform="rotate(12 1134.9 178.5)"/>
<ellipse cx="1134.9" cy="178.5" rx="147.4" ry="88.4" fill="none" stroke="#d9bc58" stroke-opacity="0.75" stroke-width="1.1" transform="rotate(12 1134.9 178.5)"/>
<ellipse cx="1134.9" cy="178.5" rx="152.3" ry="91.4" fill="none" stroke="#d9bc58" stroke-opacity="0.75" stroke-width="1.1" transform="rotate(12 1134.9 178.5)"/>
<ellipse cx="1134.9" cy="178.5" rx="157.2" ry="94.3" fill="none" stroke="#d9bc58" stroke-opacity="0.75" stroke-width="1.1" transform="rotate(12 1134.9 178.5)"/>
<path d="M1116.5,146.3 L1164.7,144.0 L1161.3,201.5 L1114.2,192.3Z" fill="#4a3a18" opacity="0.45" filter="url(#bl4)"/>
<path d="M1079.7,164.7 L1091.2,132.6 L1114.2,144.0 L1111.9,192.3 L1088.9,185.4Z" fill="#5a4618" opacity="0.35" filter="url(#bl2)"/>
<ellipse cx="1161.3" cy="139.4" rx="10" ry="9" fill="#fff6d8" opacity="0.9" filter="url(#bl4)"/>
</g>
<ellipse cx="1183.1" cy="144.0" rx="14" ry="18" fill="#fff" opacity="0.35" filter="url(#bl4)"/>
<text x="1092.3" y="76.9" font-size="31" fill="#000" stroke="#000" stroke-width="0.9" textLength="156.3" lengthAdjust="spacingAndGlyphs">on PDMS</text>
<line x1="1070.5" y1="193.5" x2="1159.0" y2="215.3" stroke="#000" stroke-width="0.9"/>
<path d="M0,0 L8.5,-3.2 L8.5,3.2Z" fill="#000" transform="translate(1070.5 193.5) rotate(13.9)"/>
<path d="M0,0 L-8.5,-3.2 L-8.5,3.2Z" fill="#000" transform="translate(1159.0 215.3) rotate(13.9)"/>
<text x="0" y="0" font-size="26" text-anchor="middle" fill="#000" stroke="#000" stroke-width="0.7" textLength="58" lengthAdjust="spacingAndGlyphs" transform="translate(1109.1 234.2) rotate(15)">1 cm</text>
</g>
</g>

<!-- ================= PANEL B ================= -->
<g id="panelB">
<rect x="60" y="307" width="517" height="246" fill="#fff"/>
<clipPath id="b1cp"><rect x="62" y="309" width="203" height="243"/></clipPath>
<g clip-path="url(#b1cp)">
<g fill="none" stroke="#9bdfc4" stroke-width="4.8"><ellipse cx="190" cy="337" rx="14" ry="7" transform="rotate(96 190 337)"/><ellipse cx="165" cy="330" rx="14" ry="7" transform="rotate(78 165 330)"/><ellipse cx="150" cy="504" rx="10" ry="7" transform="rotate(22 150 504)"/><ellipse cx="244" cy="447" rx="12" ry="12" transform="rotate(71 244 447)"/><ellipse cx="222" cy="388" rx="24" ry="6" transform="rotate(26 222 388)"/><ellipse cx="221" cy="359" rx="11" ry="9" transform="rotate(105 221 359)"/><ellipse cx="172" cy="338" rx="19" ry="9" transform="rotate(11 172 338)"/><ellipse cx="150" cy="389" rx="12" ry="12" transform="rotate(105 150 389)"/><ellipse cx="215" cy="473" rx="16" ry="9" transform="rotate(44 215 473)"/><ellipse cx="228" cy="479" rx="18" ry="11" transform="rotate(52 228 479)"/><ellipse cx="150" cy="483" rx="24" ry="7" transform="rotate(27 150 483)"/><ellipse cx="193" cy="487" rx="16" ry="6" transform="rotate(103 193 487)"/><ellipse cx="196" cy="450" rx="22" ry="9" transform="rotate(104 196 450)"/><ellipse cx="241" cy="425" rx="16" ry="14" transform="rotate(120 241 425)"/><ellipse cx="190" cy="539" rx="10" ry="12" transform="rotate(148 190 539)"/><ellipse cx="194" cy="326" rx="13" ry="9" transform="rotate(83 194 326)"/><ellipse cx="83" cy="490" rx="12" ry="7" transform="rotate(23 83 490)"/><ellipse cx="230" cy="338" rx="13" ry="10" transform="rotate(81 230 338)"/><ellipse cx="219" cy="508" rx="17" ry="14" transform="rotate(50 219 508)"/><ellipse cx="231" cy="529" rx="15" ry="9" transform="rotate(27 231 529)"/><ellipse cx="115" cy="427" rx="12" ry="8" transform="rotate(106 115 427)"/><ellipse cx="149" cy="402" rx="13" ry="6" transform="rotate(102 149 402)"/><ellipse cx="166" cy="454" rx="23" ry="12" transform="rotate(122 166 454)"/><ellipse cx="213" cy="512" rx="10" ry="14" transform="rotate(144 213 512)"/><ellipse cx="93" cy="460" rx="15" ry="10" transform="rotate(11 93 460)"/><ellipse cx="101" cy="395" rx="10" ry="8" transform="rotate(9 101 395)"/><ellipse cx="90" cy="400" rx="9" ry="7" transform="rotate(5 90 400)"/><ellipse cx="105" cy="380" rx="22" ry="12" transform="rotate(63 105 380)"/><ellipse cx="225" cy="538" rx="14" ry="7" transform="rotate(84 225 538)"/><ellipse cx="94" cy="397" rx="16" ry="7" transform="rotate(48 94 397)"/><ellipse cx="84" cy="524" rx="21" ry="7" transform="rotate(95 84 524)"/><ellipse cx="77" cy="437" rx="11" ry="11" transform="rotate(176 77 437)"/><ellipse cx="124" cy="403" rx="22" ry="12" transform="rotate(30 124 403)"/><ellipse cx="210" cy="395" rx="21" ry="11" transform="rotate(40 210 395)"/><ellipse cx="222" cy="494" rx="21" ry="15" transform="rotate(147 222 494)"/><ellipse cx="166" cy="400" rx="20" ry="8" transform="rotate(5 166 400)"/><ellipse cx="119" cy="474" rx="9" ry="9" transform="rotate(172 119 474)"/><ellipse cx="249" cy="529" rx="16" ry="14" transform="rotate(66 249 529)"/><ellipse cx="109" cy="365" rx="12" ry="8" transform="rotate(112 109 365)"/><ellipse cx="160" cy="462" rx="23" ry="14" transform="rotate(144 160 462)"/><ellipse cx="238" cy="493" rx="10" ry="12" transform="rotate(135 238 493)"/><ellipse cx="214" cy="395" rx="16" ry="8" transform="rotate(144 214 395)"/><ellipse cx="147" cy="521" rx="24" ry="10" transform="rotate(130 147 521)"/><ellipse cx="100" cy="520" rx="12" ry="7" transform="rotate(145 100 520)"/><ellipse cx="249" cy="465" rx="11" ry="13" transform="rotate(63 249 465)"/><ellipse cx="79" cy="531" rx="17" ry="7" transform="rotate(117 79 531)"/><ellipse cx="152" cy="510" rx="17" ry="14" transform="rotate(149 152 510)"/><ellipse cx="126" cy="373" rx="12" ry="8" transform="rotate(106 126 373)"/><ellipse cx="97" cy="521" rx="13" ry="10" transform="rotate(64 97 521)"/><ellipse cx="234" cy="413" rx="16" ry="11" transform="rotate(165 234 413)"/><ellipse cx="168" cy="327" rx="17" ry="11" transform="rotate(79 168 327)"/><ellipse cx="218" cy="358" rx="12" ry="6" transform="rotate(85 218 358)"/><ellipse cx="134" cy="434" rx="20" ry="11" transform="rotate(100 134 434)"/><ellipse cx="174" cy="378" rx="21" ry="7" transform="rotate(50 174 378)"/><ellipse cx="174" cy="485" rx="21" ry="11" transform="rotate(164 174 485)"/><ellipse cx="164" cy="433" rx="16" ry="12" transform="rotate(125 164 433)"/><ellipse cx="160" cy="526" rx="16" ry="11" transform="rotate(126 160 526)"/><ellipse cx="124" cy="443" rx="22" ry="14" transform="rotate(170 124 443)"/><ellipse cx="100" cy="419" rx="22" ry="7" transform="rotate(13 100 419)"/><ellipse cx="194" cy="493" rx="13" ry="7" transform="rotate(161 194 493)"/><ellipse cx="192" cy="352" rx="11" ry="12" transform="rotate(159 192 352)"/><ellipse cx="238" cy="410" rx="24" ry="8" transform="rotate(88 238 410)"/><ellipse cx="108" cy="417" rx="24" ry="13" transform="rotate(93 108 417)"/><ellipse cx="131" cy="479" rx="14" ry="8" transform="rotate(4 131 479)"/><ellipse cx="80" cy="395" rx="17" ry="10" transform="rotate(112 80 395)"/><ellipse cx="248" cy="492" rx="17" ry="7" transform="rotate(175 248 492)"/><ellipse cx="79" cy="493" rx="11" ry="8" transform="rotate(49 79 493)"/><ellipse cx="239" cy="501" rx="11" ry="10" transform="rotate(47 239 501)"/><ellipse cx="176" cy="474" rx="11" ry="14" transform="rotate(16 176 474)"/><ellipse cx="150" cy="336" rx="10" ry="12" transform="rotate(169 150 336)"/><ellipse cx="92" cy="506" rx="19" ry="13" transform="rotate(12 92 506)"/><ellipse cx="137" cy="441" rx="22" ry="10" transform="rotate(167 137 441)"/><ellipse cx="168" cy="373" rx="13" ry="7" transform="rotate(20 168 373)"/><ellipse cx="109" cy="389" rx="11" ry="6" transform="rotate(55 109 389)"/><ellipse cx="164" cy="363" rx="20" ry="9" transform="rotate(62 164 363)"/><ellipse cx="74" cy="483" rx="9" ry="8" transform="rotate(99 74 483)"/><ellipse cx="242" cy="343" rx="12" ry="10" transform="rotate(147 242 343)"/><ellipse cx="222" cy="407" rx="15" ry="10" transform="rotate(91 222 407)"/><ellipse cx="137" cy="500" rx="19" ry="15" transform="rotate(127 137 500)"/><ellipse cx="137" cy="336" rx="19" ry="10" transform="rotate(23 137 336)"/><ellipse cx="120" cy="356" rx="10" ry="13" transform="rotate(15 120 356)"/><ellipse cx="192" cy="385" rx="22" ry="14" transform="rotate(44 192 385)"/><ellipse cx="102" cy="419" rx="13" ry="10" transform="rotate(47 102 419)"/><ellipse cx="171" cy="378" rx="23" ry="15" transform="rotate(174 171 378)"/><ellipse cx="74" cy="405" rx="14" ry="9" transform="rotate(85 74 405)"/><ellipse cx="164" cy="324" rx="17" ry="8" transform="rotate(48 164 324)"/><ellipse cx="79" cy="324" rx="10" ry="10" transform="rotate(55 79 324)"/><ellipse cx="169" cy="486" rx="12" ry="11" transform="rotate(118 169 486)"/><ellipse cx="145" cy="394" rx="20" ry="14" transform="rotate(177 145 394)"/><ellipse cx="189" cy="330" rx="11" ry="13" transform="rotate(150 189 330)"/><ellipse cx="202" cy="495" rx="22" ry="12" transform="rotate(25 202 495)"/><ellipse cx="222" cy="496" rx="17" ry="11" transform="rotate(149 222 496)"/><ellipse cx="195" cy="472" rx="18" ry="14" transform="rotate(41 195 472)"/><ellipse cx="138" cy="342" rx="9" ry="7" transform="rotate(150 138 342)"/><ellipse cx="185" cy="469" rx="17" ry="12" transform="rotate(88 185 469)"/><ellipse cx="208" cy="431" rx="9" ry="13" transform="rotate(96 208 431)"/><ellipse cx="204" cy="378" rx="19" ry="7" transform="rotate(13 204 378)"/><ellipse cx="111" cy="483" rx="13" ry="13" transform="rotate(176 111 483)"/><ellipse cx="160" cy="470" rx="16" ry="9" transform="rotate(138 160 470)"/><ellipse cx="91" cy="356" rx="18" ry="12" transform="rotate(46 91 356)"/><ellipse cx="175" cy="329" rx="20" ry="9" transform="rotate(11 175 329)"/><ellipse cx="198" cy="469" rx="13" ry="12" transform="rotate(52 198 469)"/><ellipse cx="158" cy="349" rx="17" ry="10" transform="rotate(161 158 349)"/><ellipse cx="241" cy="326" rx="12" ry="15" transform="rotate(83 241 326)"/><ellipse cx="155" cy="383" rx="21" ry="15" transform="rotate(38 155 383)"/><ellipse cx="177" cy="357" rx="23" ry="8" transform="rotate(94 177 357)"/><ellipse cx="216" cy="432" rx="23" ry="7" transform="rotate(160 216 432)"/><ellipse cx="231" cy="428" rx="20" ry="8" transform="rotate(4 231 428)"/><ellipse cx="154" cy="386" rx="9" ry="10" transform="rotate(25 154 386)"/><ellipse cx="224" cy="322" rx="14" ry="9" transform="rotate(135 224 322)"/><ellipse cx="235" cy="475" rx="22" ry="7" transform="rotate(162 235 475)"/><ellipse cx="144" cy="540" rx="13" ry="9" transform="rotate(106 144 540)"/><ellipse cx="124" cy="332" rx="14" ry="10" transform="rotate(18 124 332)"/><ellipse cx="236" cy="379" rx="22" ry="9" transform="rotate(48 236 379)"/><ellipse cx="141" cy="528" rx="17" ry="8" transform="rotate(159 141 528)"/><ellipse cx="233" cy="522" rx="21" ry="12" transform="rotate(99 233 522)"/><ellipse cx="203" cy="420" rx="20" ry="6" transform="rotate(135 203 420)"/><ellipse cx="86" cy="521" rx="19" ry="9" transform="rotate(23 86 521)"/><ellipse cx="128" cy="482" rx="16" ry="9" transform="rotate(176 128 482)"/><ellipse cx="128" cy="443" rx="13" ry="12" transform="rotate(71 128 443)"/></g>
</g>
<circle cx="101.4" cy="350.2" r="22.7" fill="#45c08a"/><rect x="90.4" y="339.2" width="22" height="22" rx="3" fill="#ffd898" transform="rotate(28 101.4 350.2)"/>
<circle cx="218.6" cy="350.2" r="22.7" fill="#45c08a"/><rect x="207.6" y="339.2" width="22" height="22" rx="3" fill="#ffd898" transform="rotate(28 218.6 350.2)"/>
<circle cx="152.9" cy="411.3" r="22.7" fill="#45c08a"/><rect x="141.9" y="400.3" width="22" height="22" rx="3" fill="#ffd898" transform="rotate(28 152.9 411.3)"/>
<circle cx="118.9" cy="501.5" r="22.7" fill="#45c08a"/><rect x="107.9" y="490.5" width="22" height="22" rx="3" fill="#ffd898" transform="rotate(28 118.9 501.5)"/>
<circle cx="213.5" cy="492.7" r="22.7" fill="#45c08a"/><rect x="202.5" y="481.7" width="22" height="22" rx="3" fill="#ffd898" transform="rotate(28 213.5 492.7)"/>
<g transform="translate(124.6 382.5) rotate(10)"><path d="M0,0 C8.1,-1 9.4,-7 16.2,-7 S22.9,-6 27.0,-3" fill="none" stroke="#2465d6" stroke-width="2.9" stroke-linecap="round"/><ellipse cx="27.0" cy="-3" rx="4.6" ry="3.2" fill="#2465d6" transform="rotate(15 27.0 -3)"/></g><g transform="translate(124.6 382.5) rotate(100)"><path d="M0,0 C8.1,-1 9.4,-7 16.2,-7 S22.9,-6 27.0,-3" fill="none" stroke="#2465d6" stroke-width="2.9" stroke-linecap="round"/><ellipse cx="27.0" cy="-3" rx="4.6" ry="3.2" fill="#2465d6" transform="rotate(15 27.0 -3)"/></g><g transform="translate(124.6 382.5) rotate(190)"><path d="M0,0 C8.1,-1 9.4,-7 16.2,-7 S22.9,-6 27.0,-3" fill="none" stroke="#2465d6" stroke-width="2.9" stroke-linecap="round"/><ellipse cx="27.0" cy="-3" rx="4.6" ry="3.2" fill="#2465d6" transform="rotate(15 27.0 -3)"/></g><g transform="translate(124.6 382.5) rotate(280)"><path d="M0,0 C8.1,-1 9.4,-7 16.2,-7 S22.9,-6 27.0,-3" fill="none" stroke="#2465d6" stroke-width="2.9" stroke-linecap="round"/><ellipse cx="27.0" cy="-3" rx="4.6" ry="3.2" fill="#2465d6" transform="rotate(15 27.0 -3)"/></g><rect x="120.4" y="378.3" width="8.4" height="8.4" fill="#17468f" transform="rotate(30 124.6 382.5)"/>
<g transform="translate(182.5 356.7) rotate(35)"><path d="M0,0 C8.1,-1 9.4,-7 16.2,-7 S22.9,-6 27.0,-3" fill="none" stroke="#2465d6" stroke-width="2.9" stroke-linecap="round"/><ellipse cx="27.0" cy="-3" rx="4.6" ry="3.2" fill="#2465d6" transform="rotate(15 27.0 -3)"/></g><g transform="translate(182.5 356.7) rotate(125)"><path d="M0,0 C8.1,-1 9.4,-7 16.2,-7 S22.9,-6 27.0,-3" fill="none" stroke="#2465d6" stroke-width="2.9" stroke-linecap="round"/><ellipse cx="27.0" cy="-3" rx="4.6" ry="3.2" fill="#2465d6" transform="rotate(15 27.0 -3)"/></g><g transform="translate(182.5 356.7) rotate(215)"><path d="M0,0 C8.1,-1 9.4,-7 16.2,-7 S22.9,-6 27.0,-3" fill="none" stroke="#2465d6" stroke-width="2.9" stroke-linecap="round"/><ellipse cx="27.0" cy="-3" rx="4.6" ry="3.2" fill="#2465d6" transform="rotate(15 27.0 -3)"/></g><g transform="translate(182.5 356.7) rotate(305)"><path d="M0,0 C8.1,-1 9.4,-7 16.2,-7 S22.9,-6 27.0,-3" fill="none" stroke="#2465d6" stroke-width="2.9" stroke-linecap="round"/><ellipse cx="27.0" cy="-3" rx="4.6" ry="3.2" fill="#2465d6" transform="rotate(15 27.0 -3)"/></g><rect x="178.3" y="352.5" width="8.4" height="8.4" fill="#17468f" transform="rotate(55 182.5 356.7)"/>
<g transform="translate(209.6 439.1) rotate(0)"><path d="M0,0 C8.1,-1 9.4,-7 16.2,-7 S22.9,-6 27.0,-3" fill="none" stroke="#2465d6" stroke-width="2.9" stroke-linecap="round"/><ellipse cx="27.0" cy="-3" rx="4.6" ry="3.2" fill="#2465d6" transform="rotate(15 27.0 -3)"/></g><g transform="translate(209.6 439.1) rotate(90)"><path d="M0,0 C8.1,-1 9.4,-7 16.2,-7 S22.9,-6 27.0,-3" fill="none" stroke="#2465d6" stroke-width="2.9" stroke-linecap="round"/><ellipse cx="27.0" cy="-3" rx="4.6" ry="3.2" fill="#2465d6" transform="rotate(15 27.0 -3)"/></g><g transform="translate(209.6 439.1) rotate(180)"><path d="M0,0 C8.1,-1 9.4,-7 16.2,-7 S22.9,-6 27.0,-3" fill="none" stroke="#2465d6" stroke-width="2.9" stroke-linecap="round"/><ellipse cx="27.0" cy="-3" rx="4.6" ry="3.2" fill="#2465d6" transform="rotate(15 27.0 -3)"/></g><g transform="translate(209.6 439.1) rotate(270)"><path d="M0,0 C8.1,-1 9.4,-7 16.2,-7 S22.9,-6 27.0,-3" fill="none" stroke="#2465d6" stroke-width="2.9" stroke-linecap="round"/><ellipse cx="27.0" cy="-3" rx="4.6" ry="3.2" fill="#2465d6" transform="rotate(15 27.0 -3)"/></g><rect x="205.4" y="434.9" width="8.4" height="8.4" fill="#17468f" transform="rotate(20 209.6 439.1)"/>
<g transform="translate(112.2 453.8) rotate(56)"><path d="M0,0 C8.1,-1 9.4,-7 16.2,-7 S22.9,-6 27.0,-3" fill="none" stroke="#2465d6" stroke-width="2.9" stroke-linecap="round"/><ellipse cx="27.0" cy="-3" rx="4.6" ry="3.2" fill="#2465d6" transform="rotate(15 27.0 -3)"/></g><g transform="translate(112.2 453.8) rotate(146)"><path d="M0,0 C8.1,-1 9.4,-7 16.2,-7 S22.9,-6 27.0,-3" fill="none" stroke="#2465d6" stroke-width="2.9" stroke-linecap="round"/><ellipse cx="27.0" cy="-3" rx="4.6" ry="3.2" fill="#2465d6" transform="rotate(15 27.0 -3)"/></g><g transform="translate(112.2 453.8) rotate(236)"><path d="M0,0 C8.1,-1 9.4,-7 16.2,-7 S22.9,-6 27.0,-3" fill="none" stroke="#2465d6" stroke-width="2.9" stroke-linecap="round"/><ellipse cx="27.0" cy="-3" rx="4.6" ry="3.2" fill="#2465d6" transform="rotate(15 27.0 -3)"/></g><g transform="translate(112.2 453.8) rotate(326)"><path d="M0,0 C8.1,-1 9.4,-7 16.2,-7 S22.9,-6 27.0,-3" fill="none" stroke="#2465d6" stroke-width="2.9" stroke-linecap="round"/><ellipse cx="27.0" cy="-3" rx="4.6" ry="3.2" fill="#2465d6" transform="rotate(15 27.0 -3)"/></g><rect x="108.0" y="449.6" width="8.4" height="8.4" fill="#17468f" transform="rotate(76 112.2 453.8)"/>
<g transform="translate(177.4 513.3) rotate(20)"><path d="M0,0 C8.1,-1 9.4,-7 16.2,-7 S22.9,-6 27.0,-3" fill="none" stroke="#2465d6" stroke-width="2.9" stroke-linecap="round"/><ellipse cx="27.0" cy="-3" rx="4.6" ry="3.2" fill="#2465d6" transform="rotate(15 27.0 -3)"/></g><g transform="translate(177.4 513.3) rotate(110)"><path d="M0,0 C8.1,-1 9.4,-7 16.2,-7 S22.9,-6 27.0,-3" fill="none" stroke="#2465d6" stroke-width="2.9" stroke-linecap="round"/><ellipse cx="27.0" cy="-3" rx="4.6" ry="3.2" fill="#2465d6" transform="rotate(15 27.0 -3)"/></g><g transform="translate(177.4 513.3) rotate(200)"><path d="M0,0 C8.1,-1 9.4,-7 16.2,-7 S22.9,-6 27.0,-3" fill="none" stroke="#2465d6" stroke-width="2.9" stroke-linecap="round"/><ellipse cx="27.0" cy="-3" rx="4.6" ry="3.2" fill="#2465d6" transform="rotate(15 27.0 -3)"/></g><g transform="translate(177.4 513.3) rotate(290)"><path d="M0,0 C8.1,-1 9.4,-7 16.2,-7 S22.9,-6 27.0,-3" fill="none" stroke="#2465d6" stroke-width="2.9" stroke-linecap="round"/><ellipse cx="27.0" cy="-3" rx="4.6" ry="3.2" fill="#2465d6" transform="rotate(15 27.0 -3)"/></g><rect x="173.2" y="509.1" width="8.4" height="8.4" fill="#17468f" transform="rotate(40 177.4 513.3)"/>
<rect x="64.8" y="311.6" width="197" height="237.8" fill="none" stroke="#111" stroke-width="1.5" stroke-dasharray="3.6 2"/>
<clipPath id="b2cp"><rect x="377" y="309" width="199" height="243"/></clipPath>
<g clip-path="url(#b2cp)">
<g fill="none" stroke="#9bdfc4" stroke-width="5.2"><ellipse cx="550" cy="423" rx="16" ry="11" transform="rotate(91 550 423)"/><ellipse cx="479" cy="458" rx="18" ry="8" transform="rotate(143 479 458)"/><ellipse cx="402" cy="500" rx="10" ry="9" transform="rotate(125 402 500)"/><ellipse cx="558" cy="464" rx="10" ry="15" transform="rotate(111 558 464)"/><ellipse cx="482" cy="333" rx="11" ry="6" transform="rotate(34 482 333)"/><ellipse cx="470" cy="417" rx="13" ry="6" transform="rotate(152 470 417)"/><ellipse cx="476" cy="465" rx="17" ry="12" transform="rotate(82 476 465)"/><ellipse cx="563" cy="504" rx="13" ry="15" transform="rotate(127 563 504)"/><ellipse cx="439" cy="337" rx="14" ry="8" transform="rotate(138 439 337)"/><ellipse cx="457" cy="530" rx="15" ry="14" transform="rotate(153 457 530)"/><ellipse cx="552" cy="424" rx="9" ry="8" transform="rotate(176 552 424)"/><ellipse cx="499" cy="491" rx="15" ry="7" transform="rotate(49 499 491)"/><ellipse cx="561" cy="488" rx="10" ry="9" transform="rotate(21 561 488)"/><ellipse cx="398" cy="496" rx="13" ry="7" transform="rotate(32 398 496)"/><ellipse cx="424" cy="480" rx="17" ry="10" transform="rotate(24 424 480)"/><ellipse cx="463" cy="370" rx="19" ry="7" transform="rotate(49 463 370)"/><ellipse cx="445" cy="509" rx="24" ry="13" transform="rotate(38 445 509)"/><ellipse cx="501" cy="344" rx="15" ry="14" transform="rotate(178 501 344)"/><ellipse cx="525" cy="393" rx="12" ry="8" transform="rotate(53 525 393)"/><ellipse cx="492" cy="373" rx="10" ry="7" transform="rotate(108 492 373)"/><ellipse cx="557" cy="427" rx="15" ry="10" transform="rotate(103 557 427)"/><ellipse cx="420" cy="515" rx="22" ry="8" transform="rotate(147 420 515)"/><ellipse cx="519" cy="527" rx="13" ry="8" transform="rotate(35 519 527)"/><ellipse cx="493" cy="414" rx="23" ry="14" transform="rotate(19 493 414)"/><ellipse cx="431" cy="475" rx="10" ry="15" transform="rotate(46 431 475)"/><ellipse cx="442" cy="363" rx="21" ry="11" transform="rotate(130 442 363)"/><ellipse cx="487" cy="509" rx="10" ry="8" transform="rotate(111 487 509)"/><ellipse cx="425" cy="325" rx="13" ry="14" transform="rotate(48 425 325)"/><ellipse cx="420" cy="402" rx="16" ry="7" transform="rotate(103 420 402)"/><ellipse cx="547" cy="537" rx="11" ry="9" transform="rotate(118 547 537)"/><ellipse cx="416" cy="333" rx="19" ry="11" transform="rotate(3 416 333)"/><ellipse cx="552" cy="332" rx="23" ry="12" transform="rotate(115 552 332)"/><ellipse cx="445" cy="538" rx="16" ry="13" transform="rotate(14 445 538)"/><ellipse cx="545" cy="481" rx="17" ry="13" transform="rotate(127 545 481)"/><ellipse cx="452" cy="469" rx="21" ry="14" transform="rotate(162 452 469)"/><ellipse cx="524" cy="505" rx="22" ry="10" transform="rotate(103 524 505)"/><ellipse cx="491" cy="454" rx="18" ry="9" transform="rotate(14 491 454)"/><ellipse cx="541" cy="479" rx="19" ry="15" transform="rotate(70 541 479)"/><ellipse cx="467" cy="501" rx="20" ry="11" transform="rotate(15 467 501)"/><ellipse cx="493" cy="427" rx="20" ry="6" transform="rotate(41 493 427)"/><ellipse cx="496" cy="519" rx="19" ry="10" transform="rotate(46 496 519)"/><ellipse cx="509" cy="364" rx="9" ry="9" transform="rotate(31 509 364)"/><ellipse cx="467" cy="511" rx="23" ry="12" transform="rotate(59 467 511)"/><ellipse cx="465" cy="495" rx="19" ry="8" transform="rotate(165 465 495)"/><ellipse cx="490" cy="393" rx="22" ry="9" transform="rotate(25 490 393)"/><ellipse cx="537" cy="476" rx="16" ry="14" transform="rotate(171 537 476)"/><ellipse cx="468" cy="381" rx="13" ry="8" transform="rotate(39 468 381)"/><ellipse cx="475" cy="391" rx="15" ry="12" transform="rotate(151 475 391)"/><ellipse cx="408" cy="335" rx="24" ry="10" transform="rotate(157 408 335)"/><ellipse cx="489" cy="388" rx="10" ry="12" transform="rotate(142 489 388)"/><ellipse cx="468" cy="324" rx="9" ry="7" transform="rotate(149 468 324)"/><ellipse cx="396" cy="459" rx="13" ry="7" transform="rotate(80 396 459)"/><ellipse cx="529" cy="527" rx="18" ry="12" transform="rotate(123 529 527)"/><ellipse cx="419" cy="322" rx="12" ry="10" transform="rotate(85 419 322)"/><ellipse cx="438" cy="398" rx="20" ry="8" transform="rotate(126 438 398)"/><ellipse cx="521" cy="408" rx="17" ry="12" transform="rotate(143 521 408)"/><ellipse cx="547" cy="476" rx="23" ry="7" transform="rotate(23 547 476)"/><ellipse cx="548" cy="404" rx="16" ry="12" transform="rotate(102 548 404)"/><ellipse cx="549" cy="423" rx="22" ry="13" transform="rotate(117 549 423)"/><ellipse cx="533" cy="462" rx="12" ry="12" transform="rotate(129 533 462)"/><ellipse cx="561" cy="534" rx="12" ry="14" transform="rotate(97 561 534)"/><ellipse cx="544" cy="504" rx="21" ry="9" transform="rotate(63 544 504)"/><ellipse cx="486" cy="490" rx="10" ry="10" transform="rotate(88 486 490)"/><ellipse cx="399" cy="496" rx="9" ry="13" transform="rotate(31 399 496)"/><ellipse cx="413" cy="354" rx="14" ry="13" transform="rotate(93 413 354)"/><ellipse cx="508" cy="524" rx="20" ry="14" transform="rotate(89 508 524)"/><ellipse cx="431" cy="436" rx="23" ry="7" transform="rotate(52 431 436)"/><ellipse cx="480" cy="502" rx="20" ry="12" transform="rotate(101 480 502)"/><ellipse cx="537" cy="518" rx="14" ry="9" transform="rotate(37 537 518)"/><ellipse cx="480" cy="446" rx="22" ry="15" transform="rotate(36 480 446)"/><ellipse cx="495" cy="330" rx="17" ry="11" transform="rotate(174 495 330)"/><ellipse cx="528" cy="444" rx="17" ry="10" transform="rotate(88 528 444)"/><ellipse cx="483" cy="412" rx="19" ry="7" transform="rotate(172 483 412)"/><ellipse cx="472" cy="354" rx="23" ry="8" transform="rotate(78 472 354)"/><ellipse cx="473" cy="393" rx="21" ry="14" transform="rotate(34 473 393)"/><ellipse cx="414" cy="490" rx="18" ry="14" transform="rotate(4 414 490)"/><ellipse cx="510" cy="391" rx="12" ry="8" transform="rotate(64 510 391)"/><ellipse cx="516" cy="351" rx="18" ry="7" transform="rotate(92 516 351)"/><ellipse cx="482" cy="417" rx="13" ry="8" transform="rotate(68 482 417)"/><ellipse cx="417" cy="367" rx="15" ry="11" transform="rotate(114 417 367)"/><ellipse cx="536" cy="454" rx="19" ry="11" transform="rotate(154 536 454)"/><ellipse cx="532" cy="519" rx="12" ry="13" transform="rotate(57 532 519)"/><ellipse cx="427" cy="539" rx="14" ry="14" transform="rotate(160 427 539)"/><ellipse cx="517" cy="377" rx="11" ry="8" transform="rotate(17 517 377)"/><ellipse cx="524" cy="353" rx="21" ry="10" transform="rotate(73 524 353)"/><ellipse cx="426" cy="469" rx="19" ry="6" transform="rotate(164 426 469)"/><ellipse cx="477" cy="483" rx="24" ry="7" transform="rotate(91 477 483)"/><ellipse cx="404" cy="348" rx="19" ry="8" transform="rotate(7 404 348)"/><ellipse cx="488" cy="355" rx="17" ry="11" transform="rotate(33 488 355)"/><ellipse cx="563" cy="524" rx="12" ry="14" transform="rotate(17 563 524)"/><ellipse cx="470" cy="488" rx="10" ry="15" transform="rotate(59 470 488)"/><ellipse cx="464" cy="452" rx="16" ry="11" transform="rotate(2 464 452)"/><ellipse cx="423" cy="421" rx="20" ry="14" transform="rotate(133 423 421)"/><ellipse cx="418" cy="433" rx="15" ry="8" transform="rotate(3 418 433)"/><ellipse cx="510" cy="505" rx="22" ry="13" transform="rotate(113 510 505)"/><ellipse cx="477" cy="535" rx="15" ry="11" transform="rotate(145 477 535)"/><ellipse cx="519" cy="491" rx="13" ry="14" transform="rotate(147 519 491)"/><ellipse cx="543" cy="473" rx="15" ry="14" transform="rotate(138 543 473)"/><ellipse cx="514" cy="341" rx="20" ry="10" transform="rotate(62 514 341)"/><ellipse cx="452" cy="460" rx="16" ry="6" transform="rotate(112 452 460)"/><ellipse cx="506" cy="395" rx="12" ry="15" transform="rotate(119 506 395)"/><ellipse cx="458" cy="537" rx="18" ry="11" transform="rotate(116 458 537)"/><ellipse cx="557" cy="330" rx="20" ry="13" transform="rotate(111 557 330)"/><ellipse cx="460" cy="337" rx="20" ry="8" transform="rotate(35 460 337)"/><ellipse cx="433" cy="519" rx="15" ry="7" transform="rotate(99 433 519)"/><ellipse cx="488" cy="536" rx="17" ry="15" transform="rotate(115 488 536)"/><ellipse cx="493" cy="484" rx="21" ry="7" transform="rotate(8 493 484)"/><ellipse cx="472" cy="363" rx="23" ry="7" transform="rotate(89 472 363)"/><ellipse cx="552" cy="414" rx="18" ry="7" transform="rotate(95 552 414)"/><ellipse cx="440" cy="463" rx="18" ry="9" transform="rotate(101 440 463)"/><ellipse cx="440" cy="324" rx="13" ry="12" transform="rotate(44 440 324)"/><ellipse cx="523" cy="406" rx="10" ry="7" transform="rotate(162 523 406)"/><ellipse cx="558" cy="523" rx="20" ry="6" transform="rotate(13 558 523)"/><ellipse cx="473" cy="528" rx="23" ry="10" transform="rotate(44 473 528)"/><ellipse cx="515" cy="424" rx="17" ry="14" transform="rotate(176 515 424)"/><ellipse cx="413" cy="456" rx="21" ry="11" transform="rotate(82 413 456)"/><ellipse cx="482" cy="348" rx="12" ry="6" transform="rotate(80 482 348)"/><ellipse cx="436" cy="448" rx="19" ry="10" transform="rotate(76 436 448)"/><ellipse cx="559" cy="525" rx="21" ry="11" transform="rotate(132 559 525)"/><ellipse cx="546" cy="493" rx="13" ry="7" transform="rotate(112 546 493)"/><ellipse cx="509" cy="445" rx="14" ry="8" transform="rotate(107 509 445)"/><ellipse cx="424" cy="377" rx="18" ry="13" transform="rotate(176 424 377)"/><ellipse cx="401" cy="341" rx="23" ry="14" transform="rotate(49 401 341)"/><ellipse cx="407" cy="439" rx="15" ry="12" transform="rotate(13 407 439)"/><ellipse cx="486" cy="459" rx="10" ry="12" transform="rotate(67 486 459)"/><ellipse cx="450" cy="483" rx="16" ry="8" transform="rotate(151 450 483)"/><ellipse cx="533" cy="458" rx="10" ry="7" transform="rotate(138 533 458)"/><ellipse cx="433" cy="499" rx="12" ry="10" transform="rotate(66 433 499)"/><ellipse cx="447" cy="441" rx="19" ry="15" transform="rotate(134 447 441)"/><ellipse cx="455" cy="348" rx="23" ry="10" transform="rotate(158 455 348)"/><ellipse cx="488" cy="427" rx="10" ry="7" transform="rotate(123 488 427)"/><ellipse cx="402" cy="368" rx="13" ry="13" transform="rotate(119 402 368)"/><ellipse cx="517" cy="474" rx="10" ry="9" transform="rotate(51 517 474)"/><ellipse cx="517" cy="401" rx="11" ry="9" transform="rotate(21 517 401)"/><ellipse cx="547" cy="523" rx="20" ry="11" transform="rotate(164 547 523)"/><ellipse cx="443" cy="391" rx="16" ry="13" transform="rotate(72 443 391)"/><ellipse cx="436" cy="402" rx="23" ry="14" transform="rotate(66 436 402)"/><ellipse cx="457" cy="364" rx="14" ry="10" transform="rotate(101 457 364)"/><ellipse cx="532" cy="444" rx="21" ry="11" transform="rotate(32 532 444)"/><ellipse cx="440" cy="331" rx="20" ry="14" transform="rotate(93 440 331)"/><ellipse cx="556" cy="463" rx="17" ry="11" transform="rotate(145 556 463)"/><ellipse cx="529" cy="338" rx="10" ry="11" transform="rotate(15 529 338)"/><ellipse cx="407" cy="459" rx="20" ry="14" transform="rotate(26 407 459)"/><ellipse cx="434" cy="372" rx="20" ry="12" transform="rotate(138 434 372)"/><ellipse cx="458" cy="396" rx="17" ry="13" transform="rotate(174 458 396)"/><ellipse cx="483" cy="477" rx="19" ry="10" transform="rotate(127 483 477)"/><ellipse cx="530" cy="465" rx="23" ry="10" transform="rotate(154 530 465)"/><ellipse cx="541" cy="525" rx="21" ry="14" transform="rotate(115 541 525)"/><ellipse cx="528" cy="414" rx="17" ry="12" transform="rotate(76 528 414)"/><ellipse cx="564" cy="403" rx="11" ry="13" transform="rotate(30 564 403)"/><ellipse cx="439" cy="534" rx="12" ry="10" transform="rotate(11 439 534)"/><ellipse cx="503" cy="491" rx="14" ry="7" transform="rotate(32 503 491)"/><ellipse cx="492" cy="522" rx="10" ry="10" transform="rotate(7 492 522)"/><ellipse cx="425" cy="371" rx="11" ry="8" transform="rotate(129 425 371)"/><ellipse cx="423" cy="384" rx="18" ry="8" transform="rotate(31 423 384)"/><ellipse cx="485" cy="497" rx="20" ry="9" transform="rotate(86 485 497)"/><ellipse cx="549" cy="396" rx="13" ry="14" transform="rotate(99 549 396)"/><ellipse cx="431" cy="339" rx="23" ry="10" transform="rotate(171 431 339)"/><ellipse cx="481" cy="434" rx="21" ry="9" transform="rotate(49 481 434)"/><ellipse cx="434" cy="331" rx="24" ry="12" transform="rotate(85 434 331)"/><ellipse cx="514" cy="454" rx="15" ry="13" transform="rotate(28 514 454)"/><ellipse cx="433" cy="512" rx="11" ry="9" transform="rotate(93 433 512)"/><ellipse cx="437" cy="438" rx="19" ry="15" transform="rotate(27 437 438)"/><ellipse cx="530" cy="503" rx="21" ry="6" transform="rotate(148 530 503)"/><ellipse cx="516" cy="340" rx="10" ry="8" transform="rotate(86 516 340)"/><ellipse cx="491" cy="507" rx="16" ry="15" transform="rotate(55 491 507)"/><ellipse cx="546" cy="346" rx="21" ry="10" transform="rotate(149 546 346)"/><ellipse cx="481" cy="355" rx="12" ry="11" transform="rotate(150 481 355)"/><ellipse cx="402" cy="388" rx="14" ry="9" transform="rotate(84 402 388)"/><ellipse cx="508" cy="348" rx="20" ry="9" transform="rotate(71 508 348)"/><ellipse cx="534" cy="464" rx="16" ry="15" transform="rotate(2 534 464)"/><ellipse cx="431" cy="444" rx="15" ry="12" transform="rotate(82 431 444)"/><ellipse cx="529" cy="367" rx="9" ry="15" transform="rotate(111 529 367)"/><ellipse cx="484" cy="386" rx="13" ry="9" transform="rotate(61 484 386)"/><ellipse cx="434" cy="365" rx="15" ry="12" transform="rotate(132 434 365)"/><ellipse cx="488" cy="479" rx="14" ry="15" transform="rotate(60 488 479)"/><ellipse cx="417" cy="347" rx="21" ry="7" transform="rotate(122 417 347)"/><ellipse cx="460" cy="501" rx="20" ry="8" transform="rotate(107 460 501)"/><ellipse cx="414" cy="346" rx="10" ry="8" transform="rotate(73 414 346)"/><ellipse cx="464" cy="433" rx="10" ry="14" transform="rotate(117 464 433)"/><ellipse cx="458" cy="395" rx="21" ry="13" transform="rotate(74 458 395)"/><ellipse cx="513" cy="539" rx="9" ry="10" transform="rotate(142 513 539)"/><ellipse cx="395" cy="395" rx="19" ry="11" transform="rotate(62 395 395)"/><ellipse cx="456" cy="432" rx="19" ry="7" transform="rotate(142 456 432)"/><ellipse cx="420" cy="486" rx="21" ry="12" transform="rotate(163 420 486)"/><ellipse cx="477" cy="354" rx="17" ry="9" transform="rotate(128 477 354)"/><ellipse cx="511" cy="499" rx="24" ry="11" transform="rotate(35 511 499)"/><ellipse cx="427" cy="345" rx="23" ry="12" transform="rotate(44 427 345)"/><ellipse cx="447" cy="522" rx="18" ry="12" transform="rotate(65 447 522)"/><ellipse cx="558" cy="352" rx="16" ry="7" transform="rotate(163 558 352)"/><ellipse cx="487" cy="380" rx="17" ry="11" transform="rotate(164 487 380)"/><ellipse cx="493" cy="354" rx="24" ry="13" transform="rotate(148 493 354)"/><ellipse cx="431" cy="447" rx="13" ry="14" transform="rotate(150 431 447)"/><ellipse cx="401" cy="327" rx="12" ry="11" transform="rotate(32 401 327)"/><ellipse cx="502" cy="391" rx="24" ry="14" transform="rotate(121 502 391)"/><ellipse cx="492" cy="494" rx="20" ry="9" transform="rotate(3 492 494)"/><ellipse cx="413" cy="405" rx="12" ry="10" transform="rotate(103 413 405)"/><ellipse cx="434" cy="446" rx="12" ry="11" transform="rotate(60 434 446)"/><ellipse cx="505" cy="356" rx="19" ry="6" transform="rotate(173 505 356)"/><ellipse cx="461" cy="457" rx="18" ry="10" transform="rotate(124 461 457)"/><ellipse cx="474" cy="534" rx="20" ry="13" transform="rotate(151 474 534)"/><ellipse cx="466" cy="444" rx="22" ry="10" transform="rotate(163 466 444)"/><ellipse cx="465" cy="517" rx="17" ry="11" transform="rotate(58 465 517)"/><ellipse cx="548" cy="482" rx="10" ry="13" transform="rotate(108 548 482)"/><ellipse cx="492" cy="341" rx="20" ry="9" transform="rotate(22 492 341)"/><ellipse cx="459" cy="334" rx="16" ry="11" transform="rotate(125 459 334)"/><ellipse cx="443" cy="408" rx="17" ry="8" transform="rotate(42 443 408)"/><ellipse cx="558" cy="467" rx="10" ry="14" transform="rotate(156 558 467)"/><ellipse cx="428" cy="484" rx="15" ry="13" transform="rotate(102 428 484)"/><ellipse cx="524" cy="353" rx="23" ry="7" transform="rotate(97 524 353)"/><ellipse cx="435" cy="390" rx="23" ry="6" transform="rotate(58 435 390)"/><ellipse cx="532" cy="408" rx="10" ry="14" transform="rotate(64 532 408)"/><ellipse cx="397" cy="515" rx="18" ry="6" transform="rotate(55 397 515)"/><ellipse cx="559" cy="425" rx="16" ry="14" transform="rotate(37 559 425)"/><ellipse cx="546" cy="364" rx="13" ry="14" transform="rotate(151 546 364)"/><ellipse cx="419" cy="513" rx="14" ry="10" transform="rotate(179 419 513)"/><ellipse cx="421" cy="515" rx="12" ry="12" transform="rotate(9 421 515)"/><ellipse cx="443" cy="519" rx="11" ry="13" transform="rotate(157 443 519)"/><ellipse cx="509" cy="522" rx="20" ry="7" transform="rotate(80 509 522)"/><ellipse cx="441" cy="478" rx="10" ry="8" transform="rotate(35 441 478)"/><ellipse cx="506" cy="495" rx="12" ry="8" transform="rotate(67 506 495)"/><ellipse cx="492" cy="373" rx="19" ry="14" transform="rotate(54 492 373)"/><ellipse cx="440" cy="459" rx="23" ry="12" transform="rotate(16 440 459)"/><ellipse cx="481" cy="437" rx="24" ry="10" transform="rotate(8 481 437)"/><ellipse cx="434" cy="495" rx="18" ry="9" transform="rotate(16 434 495)"/><ellipse cx="432" cy="382" rx="13" ry="13" transform="rotate(99 432 382)"/><ellipse cx="562" cy="329" rx="12" ry="14" transform="rotate(83 562 329)"/><ellipse cx="548" cy="430" rx="20" ry="9" transform="rotate(32 548 430)"/><ellipse cx="452" cy="464" rx="17" ry="12" transform="rotate(141 452 464)"/><ellipse cx="536" cy="470" rx="17" ry="11" transform="rotate(94 536 470)"/><ellipse cx="522" cy="362" rx="23" ry="8" transform="rotate(109 522 362)"/><ellipse cx="525" cy="494" rx="13" ry="10" transform="rotate(142 525 494)"/><ellipse cx="427" cy="448" rx="13" ry="10" transform="rotate(90 427 448)"/><ellipse cx="515" cy="447" rx="10" ry="11" transform="rotate(157 515 447)"/><ellipse cx="390" cy="430" rx="12" ry="7" transform="rotate(78 390 430)"/><ellipse cx="528" cy="338" rx="16" ry="8" transform="rotate(163 528 338)"/><ellipse cx="526" cy="375" rx="18" ry="11" transform="rotate(26 526 375)"/><ellipse cx="444" cy="457" rx="14" ry="6" transform="rotate(95 444 457)"/><ellipse cx="403" cy="501" rx="13" ry="11" transform="rotate(31 403 501)"/><ellipse cx="510" cy="503" rx="13" ry="7" transform="rotate(142 510 503)"/><ellipse cx="452" cy="367" rx="10" ry="10" transform="rotate(175 452 367)"/><ellipse cx="524" cy="539" rx="10" ry="10" transform="rotate(26 524 539)"/><ellipse cx="397" cy="375" rx="16" ry="13" transform="rotate(160 397 375)"/><ellipse cx="440" cy="414" rx="11" ry="10" transform="rotate(14 440 414)"/><ellipse cx="522" cy="481" rx="10" ry="15" transform="rotate(41 522 481)"/><ellipse cx="431" cy="422" rx="13" ry="11" transform="rotate(168 431 422)"/><ellipse cx="561" cy="455" rx="14" ry="9" transform="rotate(7 561 455)"/><ellipse cx="399" cy="397" rx="15" ry="12" transform="rotate(125 399 397)"/><ellipse cx="540" cy="423" rx="22" ry="11" transform="rotate(71 540 423)"/><ellipse cx="523" cy="372" rx="22" ry="9" transform="rotate(63 523 372)"/></g>
</g>
<circle cx="420.5" cy="358.2" r="22.7" fill="#45c08a"/><rect x="409.5" y="347.2" width="22" height="22" rx="3" fill="#ffd898" transform="rotate(28 420.5 358.2)"/>
<circle cx="539.5" cy="360.0" r="22.7" fill="#45c08a"/><rect x="528.5" y="349.0" width="22" height="22" rx="3" fill="#ffd898" transform="rotate(28 539.5 360.0)"/>
<circle cx="475.3" cy="429.8" r="22.7" fill="#45c08a"/><rect x="464.3" y="418.8" width="22" height="22" rx="3" fill="#ffd898" transform="rotate(28 475.3 429.8)"/>
<circle cx="414.6" cy="478.4" r="22.7" fill="#45c08a"/><rect x="403.6" y="467.4" width="22" height="22" rx="3" fill="#ffd898" transform="rotate(28 414.6 478.4)"/>
<circle cx="532.2" cy="494.5" r="22.7" fill="#45c08a"/><rect x="521.2" y="483.5" width="22" height="22" rx="3" fill="#ffd898" transform="rotate(28 532.2 494.5)"/>
<g clip-path="url(#b2cp)">
<path d="M383.5,311.6 C388.0,316.2 402.3,331.5 410.2,338.8 C418.1,346.1 424.8,352.4 430.9,355.6 C436.9,358.8 441.8,353.3 446.4,358.2 C451.0,363.1 456.5,380.4 458.5,384.8 M458.5,384.8 C461.2,385.3 470.0,387.8 474.8,387.4 C479.7,387.1 483.4,385.7 487.8,382.8 C492.1,379.8 495.6,373.1 500.7,369.8 C505.7,366.6 515.1,364.4 518.0,363.4 M478.7,311.6 C480.2,314.4 483.7,325.0 487.8,328.4 C491.9,331.9 499.4,329.3 503.3,332.3 C507.2,335.3 508.6,341.4 511.0,346.6 C513.5,351.7 516.9,360.6 518.0,363.4 M518.0,363.4 C521.6,361.4 533.7,358.0 539.5,351.7 C545.2,345.5 546.7,332.1 552.4,325.9 C558.1,319.6 570.1,316.2 573.6,314.2 M518.0,363.4 C521.8,365.1 536.8,369.2 540.8,373.7 C544.8,378.2 536.6,385.3 542.1,390.5 C547.5,395.7 568.4,402.4 573.6,404.7 M458.5,384.8 C456.5,388.8 450.1,402.1 446.4,408.6 C442.6,415.2 439.8,420.2 436.0,424.1 C432.2,428.1 425.7,431.0 423.6,432.4 M458.5,384.8 C460.4,387.5 464.8,396.9 469.7,400.9 C474.5,404.8 482.6,404.7 487.8,408.6 C492.9,412.5 496.5,419.1 500.7,424.1 C504.9,429.2 510.8,436.6 512.8,439.1 M380.4,380.2 C382.8,380.6 391.4,378.9 394.7,382.8 C397.9,386.6 397.2,396.6 399.8,403.4 C402.4,410.3 406.2,419.3 410.2,424.1 C414.1,429.0 421.4,431.0 423.6,432.4 M423.6,432.4 C421.4,433.6 414.1,434.1 410.2,439.7 C406.2,445.2 404.8,458.6 399.8,465.5 C394.9,472.4 383.7,478.4 380.4,481.0 M423.6,432.4 C424.8,436.2 428.4,447.9 430.9,455.2 C433.4,462.4 434.7,474.6 438.6,475.9 C442.5,477.2 449.4,462.1 454.1,462.9 C458.9,463.8 463.6,475.6 467.1,481.0 C470.5,486.4 473.5,492.9 474.8,495.3 M512.8,439.1 C515.1,437.5 520.8,432.7 526.5,429.3 C532.3,425.9 541.6,419.0 547.2,419.0 C552.8,419.0 555.8,424.4 560.2,429.3 C564.6,434.3 571.4,445.5 573.6,448.7 M512.8,439.1 C515.6,439.4 524.3,436.6 529.1,440.9 C534.0,445.3 537.3,458.0 542.1,465.5 C546.8,473.1 552.3,481.7 557.6,486.2 C562.8,490.7 570.9,491.6 573.6,492.7 M512.8,439.1 C511.2,441.8 504.9,449.5 503.3,455.2 C501.7,460.9 505.9,469.0 503.3,473.3 C500.7,477.6 492.5,477.4 487.8,481.0 C483.0,484.7 477.0,492.9 474.8,495.3 M474.8,495.3 C473.5,498.5 470.5,508.4 467.1,514.7 C463.6,520.9 458.4,528.9 454.1,532.8 C449.8,536.6 447.7,538.8 441.2,537.9 C434.7,537.1 422.7,525.9 415.3,527.6 C408.0,529.3 400.3,544.8 397.2,548.3 M474.8,495.3 C478.3,496.8 489.5,498.9 495.5,504.3 C501.5,509.7 503.3,520.0 511.0,527.6 C518.8,535.1 536.9,545.9 542.1,549.6" fill="none" stroke="#2465d6" stroke-width="2.8" stroke-linecap="round"/>
</g>
<rect x="452.7" y="379.0" width="11.6" height="11.6" fill="#17468f" transform="rotate(20 458.5 384.8)"/>
<rect x="512.2" y="357.6" width="11.6" height="11.6" fill="#17468f" transform="rotate(20 518.0 363.4)"/>
<rect x="417.8" y="426.6" width="11.6" height="11.6" fill="#17468f" transform="rotate(20 423.6 432.4)"/>
<rect x="507.0" y="433.3" width="11.6" height="11.6" fill="#17468f" transform="rotate(20 512.8 439.1)"/>
<rect x="469.0" y="489.5" width="11.6" height="11.6" fill="#17468f" transform="rotate(20 474.8 495.3)"/>
<rect x="379.1" y="311.6" width="194.5" height="238" fill="none" stroke="#111" stroke-width="1.5" stroke-dasharray="3.6 2"/>
<text x="269.2" y="333.6" font-size="15.5" fill="#111" textLength="93" lengthAdjust="spacingAndGlyphs">385 nm light</text>
<line x1="265.3" y1="354.3" x2="362" y2="354.3" stroke="#000" stroke-width="2.2"/>
<path d="M358.5,350.4 L376,354.3 L358.5,358.2Z" fill="#000"/>
<circle cx="327.9" cy="381.0" r="19.4" fill="#45c08a"/><rect x="319.1" y="372.2" width="17.5" height="17.5" rx="3" fill="#ffd898" transform="rotate(22 327.9 381.0)"/>
<text x="263.5" y="409.1" font-size="15.5" fill="#111" textLength="106" lengthAdjust="spacingAndGlyphs">PQD-nanocell</text>
<path d="M326.9,448.7 C326.7,440.6 314.8,442.8 313.2,433.2" fill="none" stroke="#2465d6" stroke-width="1.6"/>
<circle cx="313.2" cy="433.2" r="3" fill="#2465d6"/>
<path d="M326.9,448.7 C336.0,448.4 333.4,435.1 344.2,433.2" fill="none" stroke="#2465d6" stroke-width="1.6"/>
<circle cx="344.2" cy="433.2" r="3" fill="#2465d6"/>
<path d="M326.9,448.7 C318.4,450.1 322.4,462.4 312.4,465.5" fill="none" stroke="#2465d6" stroke-width="1.6"/>
<circle cx="312.4" cy="465.5" r="3" fill="#2465d6"/>
<path d="M326.9,448.7 C329.1,457.8 341.9,452.5 346.0,462.9" fill="none" stroke="#2465d6" stroke-width="1.6"/>
<circle cx="346.0" cy="462.9" r="3" fill="#2465d6"/>
<rect x="323.59999999999997" y="445.4" width="6.6" height="6.6" fill="#17468f" transform="rotate(20 326.9 448.7)"/>
<text x="289.1" y="486.7" font-size="15.8" fill="#111" textLength="46.6" lengthAdjust="spacingAndGlyphs">POSS</text>
<clipPath id="b3cp"><rect x="294" y="496" width="67" height="29" rx="6"/></clipPath>
<g clip-path="url(#b3cp)">
<g fill="none" stroke="#9bdfc4" stroke-width="3.4"><ellipse cx="333" cy="515" rx="14" ry="5" transform="rotate(6 333 515)"/><ellipse cx="347" cy="503" rx="12" ry="5" transform="rotate(4 347 503)"/><ellipse cx="346" cy="505" rx="12" ry="3" transform="rotate(1 346 505)"/><ellipse cx="331" cy="503" rx="10" ry="3" transform="rotate(10 331 503)"/><ellipse cx="340" cy="506" rx="14" ry="2" transform="rotate(3 340 506)"/><ellipse cx="312" cy="503" rx="15" ry="3" transform="rotate(-7 312 503)"/><ellipse cx="349" cy="517" rx="10" ry="5" transform="rotate(1 349 517)"/><ellipse cx="336" cy="506" rx="16" ry="4" transform="rotate(11 336 506)"/><ellipse cx="345" cy="508" rx="11" ry="2" transform="rotate(-9 345 508)"/><ellipse cx="309" cy="508" rx="13" ry="2" transform="rotate(4 309 508)"/><ellipse cx="321" cy="508" rx="15" ry="3" transform="rotate(-4 321 508)"/><ellipse cx="327" cy="514" rx="8" ry="5" transform="rotate(-11 327 514)"/><ellipse cx="339" cy="517" rx="8" ry="4" transform="rotate(-3 339 517)"/><ellipse cx="331" cy="503" rx="8" ry="3" transform="rotate(11 331 503)"/><ellipse cx="315" cy="515" rx="15" ry="5" transform="rotate(-4 315 515)"/><ellipse cx="322" cy="511" rx="14" ry="2" transform="rotate(6 322 511)"/><ellipse cx="341" cy="517" rx="8" ry="5" transform="rotate(-10 341 517)"/><ellipse cx="321" cy="513" rx="15" ry="3" transform="rotate(10 321 513)"/><ellipse cx="330" cy="508" rx="11" ry="3" transform="rotate(-10 330 508)"/><ellipse cx="313" cy="514" rx="16" ry="2" transform="rotate(-11 313 514)"/><ellipse cx="349" cy="512" rx="11" ry="3" transform="rotate(2 349 512)"/><ellipse cx="342" cy="510" rx="11" ry="2" transform="rotate(10 342 510)"/><ellipse cx="307" cy="511" rx="15" ry="2" transform="rotate(6 307 511)"/><ellipse cx="348" cy="513" rx="14" ry="2" transform="rotate(-2 348 513)"/><ellipse cx="313" cy="517" rx="10" ry="3" transform="rotate(12 313 517)"/><ellipse cx="343" cy="519" rx="12" ry="3" transform="rotate(6 343 519)"/></g>
</g>
<text x="269.2" y="543.6" font-size="15.5" fill="#111" textLength="97" lengthAdjust="spacingAndGlyphs">PTDPPTFT4</text>
</g>

<!-- ================= PANEL D ================= -->
<g id="panelD">
<defs>
<g id="ucell">
<rect x="0" y="0" width="91" height="44.8" fill="#d6d458"/>
<rect x="0" y="37.3" width="91" height="7.5" fill="#dede62"/><rect x="0" y="0" width="91" height="3.4" fill="#dada5c"/>
<rect x="0" y="40" width="91" height="2.4" fill="#e8e870"/>
<rect x="12.1" y="6.2" width="47" height="31.2" fill="#d6d24a"/><rect x="13.2" y="9" width="8.6" height="25" fill="#e6e06a"/>
<rect x="58.9" y="0" width="24" height="44.8" fill="#d8ce56"/>
<rect x="58.9" y="0" width="24" height="5.2" fill="#74743a"/>
<rect x="58.9" y="37.6" width="24" height="8" fill="#e0ec58"/>
<rect x="58.9" y="35.6" width="24" height="2.4" fill="#3e3470"/><rect x="58.9" y="43.6" width="24" height="1.6" fill="#4a4078"/>
<rect x="83.9" y="5.2" width="7.2" height="31.4" fill="#969a76"/><rect x="0" y="5.2" width="11.8" height="31.4" fill="#969a76"/>
<rect x="83.9" y="9" width="7.2" height="22" fill="#8e9272"/><rect x="0" y="9" width="11.8" height="22" fill="#8e9272"/>
<path d="M0,5.2 H58.9 M0,36.6 H58.9 M83,5.2 H91 M83,36.6 H91" stroke="#4c447e" stroke-width="1.3" fill="none"/>
<path d="M58.9,0 V44.8 M82.9,0 V44.8 M12,5.2 V36.6" stroke="#6a6090" stroke-width="1.0" fill="none"/>
<rect x="37" y="9.5" width="31" height="25" rx="3" fill="none" stroke="#9a9450" stroke-width="0.8"/>
<rect x="24.3" y="12.2" width="42" height="19.4" rx="3.2" fill="#fbeea0"/>
<path d="M27.5,12.2 h9.5 v19.4 h-9.5 a3.2,3.2 0 0 1 -3.2,-3.2 v-13 a3.2,3.2 0 0 1 3.2,-3.2z" fill="#a8e8a0"/>
<path d="M60,12.2 h3.1 a3.2,3.2 0 0 1 3.2,3.2 v13 a3.2,3.2 0 0 1 -3.2,3.2 h-3.1z" fill="#d8e040"/>
<rect x="24.3" y="12.2" width="42" height="19.4" rx="3.2" fill="none" stroke="#2a1772" stroke-width="2.3"/>
<path d="M37,13 V31 M60,13 V31" stroke="#a098b0" stroke-width="0.6"/>
</g>
<g id="scell">
<rect x="0" y="0" width="41" height="14.7" fill="#5d5f6a"/>
<rect x="0" y="14.5" width="41" height="5.7" fill="#bdbf36"/>
<rect x="0" y="15.7" width="22" height="2.2" fill="#d8da42"/>
<rect x="21.9" y="16.2" width="11.2" height="1.2" fill="#b8e244"/>
<rect x="21.9" y="18.3" width="11.2" height="1.5" fill="#483888"/>
<rect x="0" y="13.9" width="41" height="0.9" fill="#5a5490"/>
<rect x="0" y="19.5" width="41" height="0.7" fill="#67629a"/>
<rect x="33.1" y="0.8" width="7.8" height="13" fill="#666a50"/>
<rect x="34.6" y="3" width="4.8" height="8.4" fill="#7c805a"/>
<ellipse cx="3.5" cy="7.5" rx="1.6" ry="3.4" fill="#f2e83a"/>
<ellipse cx="30" cy="7.5" rx="1.9" ry="3.8" fill="#f8e624"/>
<rect x="5.6" y="0.6" width="22" height="14" rx="3.4" fill="#3a2f74" fill-opacity="0.75"/><rect x="6.6" y="1.6" width="20" height="12" rx="2.6" fill="#98ee86"/>
<rect x="12.2" y="3" width="9.4" height="9.2" rx="0.8" fill="#fff08a"/>
<path d="M10.6,4 q-1.4,3.6 0,7.2 M23.2,4 q1.4,3.6 0,7.2" stroke="#6a58a8" stroke-width="0.8" fill="none"/>
<rect x="6.6" y="1.6" width="20" height="12" rx="2.6" fill="none" stroke="#261470" stroke-width="1.9"/>
</g>
<filter id="blm" x="0" y="0" width="100%" height="100%"><feGaussianBlur stdDeviation="0.8"/></filter>
<filter id="blm2" x="0" y="0" width="100%" height="100%"><feGaussianBlur stdDeviation="0.8"/></filter>
<clipPath id="inscp"><rect x="52.9" y="784.2" width="190" height="180.4"/></clipPath>
<clipPath id="bigcp"><rect x="260.4" y="581.7" width="324.7" height="384.3"/></clipPath>
</defs>
<rect x="44.7" y="579.8" width="216" height="198.5" fill="#fff"/>
<rect x="48.3" y="778" width="212.5" height="191.4" fill="#fff"/>
<rect x="260" y="579.8" width="329.4" height="388.8" fill="#fff"/>
<rect x="208.9" y="968.6" width="252.1" height="37.2" fill="#fff"/>
<g clip-path="url(#inscp)"><rect x="52" y="784" width="192" height="182" fill="#d6d458"/><g><use href="#ucell" x="-38.1" y="784.6"/><use href="#ucell" x="-38.1" y="829.4"/><use href="#ucell" x="-38.1" y="874.2"/><use href="#ucell" x="-38.1" y="919.0"/><use href="#ucell" x="-38.1" y="963.8"/><use href="#ucell" x="52.9" y="784.6"/><use href="#ucell" x="52.9" y="829.4"/><use href="#ucell" x="52.9" y="874.2"/><use href="#ucell" x="52.9" y="919.0"/><use href="#ucell" x="52.9" y="963.8"/><use href="#ucell" x="143.9" y="784.6"/><use href="#ucell" x="143.9" y="829.4"/><use href="#ucell" x="143.9" y="874.2"/><use href="#ucell" x="143.9" y="919.0"/><use href="#ucell" x="143.9" y="963.8"/><use href="#ucell" x="234.9" y="784.6"/><use href="#ucell" x="234.9" y="829.4"/><use href="#ucell" x="234.9" y="874.2"/><use href="#ucell" x="234.9" y="919.0"/><use href="#ucell" x="234.9" y="963.8"/></g></g>
<rect x="179" y="944.4" width="57.7" height="4.7" fill="#000"/>
<g clip-path="url(#bigcp)"><rect x="260" y="581" width="326" height="386" fill="#8a8c50"/><g><use href="#scell" x="245.5" y="564.0"/><use href="#scell" x="245.5" y="584.1"/><use href="#scell" x="245.5" y="604.2"/><use href="#scell" x="245.5" y="624.3"/><use href="#scell" x="245.5" y="644.4"/><use href="#scell" x="245.5" y="664.5"/><use href="#scell" x="245.5" y="684.6"/><use href="#scell" x="245.5" y="704.7"/><use href="#scell" x="245.5" y="724.8"/><use href="#scell" x="245.5" y="744.9"/><use href="#scell" x="245.5" y="765.0"/><use href="#scell" x="245.5" y="785.1"/><use href="#scell" x="245.5" y="805.2"/><use href="#scell" x="245.5" y="825.3"/><use href="#scell" x="245.5" y="845.4"/><use href="#scell" x="245.5" y="865.5"/><use href="#scell" x="245.5" y="885.6"/><use href="#scell" x="245.5" y="905.7"/><use href="#scell" x="245.5" y="925.8"/><use href="#scell" x="245.5" y="945.9"/><use href="#scell" x="245.5" y="966.0"/><use href="#scell" x="286.4" y="564.0"/><use href="#scell" x="286.4" y="584.1"/><use href="#scell" x="286.4" y="604.2"/><use href="#scell" x="286.4" y="624.3"/><use href="#scell" x="286.4" y="644.4"/><use href="#scell" x="286.4" y="664.5"/><use href="#scell" x="286.4" y="684.6"/><use href="#scell" x="286.4" y="704.7"/><use href="#scell" x="286.4" y="724.8"/><use href="#scell" x="286.4" y="744.9"/><use href="#scell" x="286.4" y="765.0"/><use href="#scell" x="286.4" y="785.1"/><use href="#scell" x="286.4" y="805.2"/><use href="#scell" x="286.4" y="825.3"/><use href="#scell" x="286.4" y="845.4"/><use href="#scell" x="286.4" y="865.5"/><use href="#scell" x="286.4" y="885.6"/><use href="#scell" x="286.4" y="905.7"/><use href="#scell" x="286.4" y="925.8"/><use href="#scell" x="286.4" y="945.9"/><use href="#scell" x="286.4" y="966.0"/><use href="#scell" x="327.3" y="564.0"/><use href="#scell" x="327.3" y="584.1"/><use href="#scell" x="327.3" y="604.2"/><use href="#scell" x="327.3" y="624.3"/><use href="#scell" x="327.3" y="644.4"/><use href="#scell" x="327.3" y="664.5"/><use href="#scell" x="327.3" y="684.6"/><use href="#scell" x="327.3" y="704.7"/><use href="#scell" x="327.3" y="724.8"/><use href="#scell" x="327.3" y="744.9"/><use href="#scell" x="327.3" y="765.0"/><use href="#scell" x="327.3" y="785.1"/><use href="#scell" x="327.3" y="805.2"/><use href="#scell" x="327.3" y="825.3"/><use href="#scell" x="327.3" y="845.4"/><use href="#scell" x="327.3" y="865.5"/><use href="#scell" x="327.3" y="885.6"/><use href="#scell" x="327.3" y="905.7"/><use href="#scell" x="327.3" y="925.8"/><use href="#scell" x="327.3" y="945.9"/><use href="#scell" x="327.3" y="966.0"/><use href="#scell" x="368.2" y="564.0"/><use href="#scell" x="368.2" y="584.1"/><use href="#scell" x="368.2" y="604.2"/><use href="#scell" x="368.2" y="624.3"/><use href="#scell" x="368.2" y="644.4"/><use href="#scell" x="368.2" y="664.5"/><use href="#scell" x="368.2" y="684.6"/><use href="#scell" x="368.2" y="704.7"/><use href="#scell" x="368.2" y="724.8"/><use href="#scell" x="368.2" y="744.9"/><use href="#scell" x="368.2" y="765.0"/><use href="#scell" x="368.2" y="785.1"/><use href="#scell" x="368.2" y="805.2"/><use href="#scell" x="368.2" y="825.3"/><use href="#scell" x="368.2" y="845.4"/><use href="#scell" x="368.2" y="865.5"/><use href="#scell" x="368.2" y="885.6"/><use href="#scell" x="368.2" y="905.7"/><use href="#scell" x="368.2" y="925.8"/><use href="#scell" x="368.2" y="945.9"/><use href="#scell" x="368.2" y="966.0"/><use href="#scell" x="409.1" y="564.0"/><use href="#scell" x="409.1" y="584.1"/><use href="#scell" x="409.1" y="604.2"/><use href="#scell" x="409.1" y="624.3"/><use href="#scell" x="409.1" y="644.4"/><use href="#scell" x="409.1" y="664.5"/><use href="#scell" x="409.1" y="684.6"/><use href="#scell" x="409.1" y="704.7"/><use href="#scell" x="409.1" y="724.8"/><use href="#scell" x="409.1" y="744.9"/><use href="#scell" x="409.1" y="765.0"/><use href="#scell" x="409.1" y="785.1"/><use href="#scell" x="409.1" y="805.2"/><use href="#scell" x="409.1" y="825.3"/><use href="#scell" x="409.1" y="845.4"/><use href="#scell" x="409.1" y="865.5"/><use href="#scell" x="409.1" y="885.6"/><use href="#scell" x="409.1" y="905.7"/><use href="#scell" x="409.1" y="925.8"/><use href="#scell" x="409.1" y="945.9"/><use href="#scell" x="409.1" y="966.0"/><use href="#scell" x="450.0" y="564.0"/><use href="#scell" x="450.0" y="584.1"/><use href="#scell" x="450.0" y="604.2"/><use href="#scell" x="450.0" y="624.3"/><use href="#scell" x="450.0" y="644.4"/><use href="#scell" x="450.0" y="664.5"/><use href="#scell" x="450.0" y="684.6"/><use href="#scell" x="450.0" y="704.7"/><use href="#scell" x="450.0" y="724.8"/><use href="#scell" x="450.0" y="744.9"/><use href="#scell" x="450.0" y="765.0"/><use href="#scell" x="450.0" y="785.1"/><use href="#scell" x="450.0" y="805.2"/><use href="#scell" x="450.0" y="825.3"/><use href="#scell" x="450.0" y="845.4"/><use href="#scell" x="450.0" y="865.5"/><use href="#scell" x="450.0" y="885.6"/><use href="#scell" x="450.0" y="905.7"/><use href="#scell" x="450.0" y="925.8"/><use href="#scell" x="450.0" y="945.9"/><use href="#scell" x="450.0" y="966.0"/><use href="#scell" x="490.9" y="564.0"/><use href="#scell" x="490.9" y="584.1"/><use href="#scell" x="490.9" y="604.2"/><use href="#scell" x="490.9" y="624.3"/><use href="#scell" x="490.9" y="644.4"/><use href="#scell" x="490.9" y="664.5"/><use href="#scell" x="490.9" y="684.6"/><use href="#scell" x="490.9" y="704.7"/><use href="#scell" x="490.9" y="724.8"/><use href="#scell" x="490.9" y="744.9"/><use href="#scell" x="490.9" y="765.0"/><use href="#scell" x="490.9" y="785.1"/><use href="#scell" x="490.9" y="805.2"/><use href="#scell" x="490.9" y="825.3"/><use href="#scell" x="490.9" y="845.4"/><use href="#scell" x="490.9" y="865.5"/><use href="#scell" x="490.9" y="885.6"/><use href="#scell" x="490.9" y="905.7"/><use href="#scell" x="490.9" y="925.8"/><use href="#scell" x="490.9" y="945.9"/><use href="#scell" x="490.9" y="966.0"/><use href="#scell" x="531.8" y="564.0"/><use href="#scell" x="531.8" y="584.1"/><use href="#scell" x="531.8" y="604.2"/><use href="#scell" x="531.8" y="624.3"/><use href="#scell" x="531.8" y="644.4"/><use href="#scell" x="531.8" y="664.5"/><use href="#scell" x="531.8" y="684.6"/><use href="#scell" x="531.8" y="704.7"/><use href="#scell" x="531.8" y="724.8"/><use href="#scell" x="531.8" y="744.9"/><use href="#scell" x="531.8" y="765.0"/><use href="#scell" x="531.8" y="785.1"/><use href="#scell" x="531.8" y="805.2"/><use href="#scell" x="531.8" y="825.3"/><use href="#scell" x="531.8" y="845.4"/><use href="#scell" x="531.8" y="865.5"/><use href="#scell" x="531.8" y="885.6"/><use href="#scell" x="531.8" y="905.7"/><use href="#scell" x="531.8" y="925.8"/><use href="#scell" x="531.8" y="945.9"/><use href="#scell" x="531.8" y="966.0"/><use href="#scell" x="572.7" y="564.0"/><use href="#scell" x="572.7" y="584.1"/><use href="#scell" x="572.7" y="604.2"/><use href="#scell" x="572.7" y="624.3"/><use href="#scell" x="572.7" y="644.4"/><use href="#scell" x="572.7" y="664.5"/><use href="#scell" x="572.7" y="684.6"/><use href="#scell" x="572.7" y="704.7"/><use href="#scell" x="572.7" y="724.8"/><use href="#scell" x="572.7" y="744.9"/><use href="#scell" x="572.7" y="765.0"/><use href="#scell" x="572.7" y="785.1"/><use href="#scell" x="572.7" y="805.2"/><use href="#scell" x="572.7" y="825.3"/><use href="#scell" x="572.7" y="845.4"/><use href="#scell" x="572.7" y="865.5"/><use href="#scell" x="572.7" y="885.6"/><use href="#scell" x="572.7" y="905.7"/><use href="#scell" x="572.7" y="925.8"/><use href="#scell" x="572.7" y="945.9"/><use href="#scell" x="572.7" y="966.0"/></g></g>
<rect x="522.6" y="944" width="51" height="4.9" fill="#000"/>
<rect x="285.5" y="823" width="80" height="79.7" fill="none" stroke="#111" stroke-width="2" stroke-dasharray="5 2.6"/>
<line x1="285.6" y1="865" x2="250" y2="872.9" stroke="#111" stroke-width="1.3"/>
<path d="M243.6,874 L254,867.2 L255.4,876.4Z" fill="#111"/>
<path d="M256.5,706 l4,6.5 l-1,-6z" fill="#111"/>
<text x="214.8" y="1000.9" font-size="29" fill="#ff1414" textLength="240.3" lengthAdjust="spacingAndGlyphs">3.1x10<tspan font-size="19" dy="-12">6</tspan><tspan dy="12"> units cm</tspan><tspan font-size="19" dy="-12">−2</tspan></text>
<text x="34.5" y="612.5" font-size="42" font-weight="bold" fill="#000">d</text>
<rect x="20" y="575" width="24.7" height="50" fill="#000"/>
<path d="M52.2,705.0 L152.7,662.8 L243.4,712.3 L243.4,714.5 L174.7,764.0 L108.7,764.0 L52.2,707.2Z" fill="#9a5cd0" />
<path d="M52.2,705.0 L152.7,662.8 L243.4,712.3 L174.7,761.8 L108.7,761.8Z" fill="#b87bea" />
<rect x="100" y="761.8" width="90" height="6" fill="#fff"/>
<path d="M72.0,702.6 L90.3,694.9 L94.4,698.9 L113.6,690.8 L118.0,695.1 L80.4,710.9Z" fill="#c9aa3c" />
<path d="M72.0,701.0 L90.3,693.3 L94.4,697.2 L113.6,689.1 L118.0,693.4 L80.4,709.2Z" fill="#f1db62" />
<path d="M84.1,713.2 L102.4,705.5 L106.5,709.5 L125.7,701.4 L130.1,705.7 L92.5,721.5Z" fill="#c9aa3c" />
<path d="M84.1,711.6 L102.4,703.9 L106.5,707.8 L125.7,699.8 L130.1,704.1 L92.5,719.9Z" fill="#f1db62" />
<path d="M96.2,723.9 L114.5,716.2 L118.6,720.1 L137.8,712.0 L142.2,716.4 L104.6,732.1Z" fill="#c9aa3c" />
<path d="M96.2,722.2 L114.5,714.5 L118.6,718.5 L137.8,710.4 L142.2,714.7 L104.6,730.5Z" fill="#f1db62" />
<path d="M108.3,734.5 L126.6,726.8 L130.7,730.8 L149.9,722.7 L154.3,727.0 L116.7,742.8Z" fill="#c9aa3c" />
<path d="M108.3,732.9 L126.6,725.2 L130.7,729.1 L149.9,721.0 L154.3,725.3 L116.7,741.1Z" fill="#f1db62" />
<path d="M120.4,745.1 L138.7,737.4 L142.8,741.4 L162.0,733.3 L166.4,737.6 L128.8,753.4Z" fill="#c9aa3c" />
<path d="M120.4,743.5 L138.7,735.8 L142.8,739.7 L162.0,731.7 L166.4,736.0 L128.8,751.8Z" fill="#f1db62" />
<path d="M83.9,674.7 L169.2,738.9 L238.8,695.5 L238.8,697.7 L169.2,741.5 L83.9,676.9Z" fill="#cfcfd4" fill-opacity="0.9"/>
<path d="M83.9,674.7 L158.2,640.8 L238.8,695.5 L169.2,738.9Z" fill="#e3e2e8" fill-opacity="0.84"/>
<path d="M96.7,673.8 L101.9,677.5 L101.9,678.8 L96.7,675.1Z" fill="#c9aa3c" />
<path d="M101.9,677.5 L106.8,675.3 L106.8,676.6 L101.9,678.8Z" fill="#dcc04c" />
<path d="M96.7,673.8 L101.9,677.5 L106.8,675.3 L101.7,671.6Z" fill="#f1db62" />
<path d="M111.4,684.4 L116.5,688.2 L116.5,689.4 L111.4,685.7Z" fill="#c9aa3c" />
<path d="M116.5,688.2 L121.5,686.0 L121.5,687.2 L116.5,689.4Z" fill="#dcc04c" />
<path d="M111.4,684.4 L116.5,688.2 L121.5,686.0 L116.4,682.2Z" fill="#f1db62" />
<path d="M126.1,695.1 L131.2,698.8 L131.2,700.1 L126.1,696.4Z" fill="#c9aa3c" />
<path d="M131.2,698.8 L136.2,696.6 L136.2,697.9 L131.2,700.1Z" fill="#dcc04c" />
<path d="M126.1,695.1 L131.2,698.8 L136.2,696.6 L131.0,692.9Z" fill="#f1db62" />
<path d="M140.7,705.7 L145.9,709.4 L145.9,710.7 L140.7,707.0Z" fill="#c9aa3c" />
<path d="M145.9,709.4 L150.8,707.2 L150.8,708.5 L145.9,710.7Z" fill="#dcc04c" />
<path d="M140.7,705.7 L145.9,709.4 L150.8,707.2 L145.7,703.5Z" fill="#f1db62" />
<path d="M155.4,716.3 L160.5,720.1 L160.5,721.3 L155.4,717.6Z" fill="#c9aa3c" />
<path d="M160.5,720.1 L165.5,717.9 L165.5,719.1 L160.5,721.3Z" fill="#dcc04c" />
<path d="M155.4,716.3 L160.5,720.1 L165.5,717.9 L160.4,714.1Z" fill="#f1db62" />
<path d="M95.8,667.4 L169.2,720.6 L169.2,721.9 L95.8,668.7Z" fill="#c9aa3c" />
<path d="M169.2,720.6 L174.7,718.2 L174.7,719.5 L169.2,721.9Z" fill="#dcc04c" />
<path d="M95.8,667.4 L169.2,720.6 L174.7,718.2 L101.3,665.0Z" fill="#f1db62" />
<path d="M108.4,667.6 L113.7,671.2 L113.7,672.4 L108.4,668.9Z" fill="#c9aa3c" />
<path d="M113.7,671.2 L118.7,669.0 L118.7,670.2 L113.7,672.4Z" fill="#dcc04c" />
<path d="M108.4,667.6 L113.7,671.2 L118.7,669.0 L113.3,665.4Z" fill="#f1db62" />
<path d="M123.7,677.8 L129.1,681.3 L129.1,682.6 L123.7,679.1Z" fill="#c9aa3c" />
<path d="M129.1,681.3 L134.0,679.1 L134.0,680.4 L129.1,682.6Z" fill="#dcc04c" />
<path d="M123.7,677.8 L129.1,681.3 L134.0,679.1 L128.7,675.6Z" fill="#f1db62" />
<path d="M139.0,688.0 L144.4,691.5 L144.4,692.8 L139.0,689.3Z" fill="#c9aa3c" />
<path d="M144.4,691.5 L149.3,689.3 L149.3,690.6 L144.4,692.8Z" fill="#dcc04c" />
<path d="M139.0,688.0 L144.4,691.5 L149.3,689.3 L144.0,685.8Z" fill="#f1db62" />
<path d="M154.4,698.2 L159.7,701.7 L159.7,703.0 L154.4,699.4Z" fill="#c9aa3c" />
<path d="M159.7,701.7 L164.7,699.5 L164.7,700.8 L159.7,703.0Z" fill="#dcc04c" />
<path d="M154.4,698.2 L159.7,701.7 L164.7,699.5 L159.3,696.0Z" fill="#f1db62" />
<path d="M169.7,708.4 L175.0,711.9 L175.0,713.2 L169.7,709.6Z" fill="#c9aa3c" />
<path d="M175.0,711.9 L180.0,709.7 L180.0,711.0 L175.0,713.2Z" fill="#dcc04c" />
<path d="M169.7,708.4 L175.0,711.9 L180.0,709.7 L174.6,706.2Z" fill="#f1db62" />
<path d="M107.2,661.4 L183.8,712.3 L183.8,713.6 L107.2,662.6Z" fill="#c9aa3c" />
<path d="M183.8,712.3 L189.3,709.9 L189.3,711.2 L183.8,713.6Z" fill="#dcc04c" />
<path d="M107.2,661.4 L183.8,712.3 L189.3,709.9 L112.7,659.0Z" fill="#f1db62" />
<path d="M120.9,661.9 L126.3,665.4 L126.3,666.7 L120.9,663.2Z" fill="#c9aa3c" />
<path d="M126.3,665.4 L131.2,663.2 L131.2,664.5 L126.3,666.7Z" fill="#dcc04c" />
<path d="M120.9,661.9 L126.3,665.4 L131.2,663.2 L125.8,659.7Z" fill="#f1db62" />
<path d="M136.3,671.8 L141.7,675.2 L141.7,676.5 L136.3,673.0Z" fill="#c9aa3c" />
<path d="M141.7,675.2 L146.6,673.0 L146.6,674.3 L141.7,676.5Z" fill="#dcc04c" />
<path d="M136.3,671.8 L141.7,675.2 L146.6,673.0 L141.2,669.6Z" fill="#f1db62" />
<path d="M151.7,681.6 L157.1,685.0 L157.1,686.3 L151.7,682.9Z" fill="#c9aa3c" />
<path d="M157.1,685.0 L162.0,682.8 L162.0,684.1 L157.1,686.3Z" fill="#dcc04c" />
<path d="M151.7,681.6 L157.1,685.0 L162.0,682.8 L156.6,679.4Z" fill="#f1db62" />
<path d="M167.1,691.4 L172.5,694.9 L172.5,696.1 L167.1,692.7Z" fill="#c9aa3c" />
<path d="M172.5,694.9 L177.4,692.7 L177.4,693.9 L172.5,696.1Z" fill="#dcc04c" />
<path d="M167.1,691.4 L172.5,694.9 L177.4,692.7 L172.0,689.2Z" fill="#f1db62" />
<path d="M182.5,701.2 L187.9,704.7 L187.9,706.0 L182.5,702.5Z" fill="#c9aa3c" />
<path d="M187.9,704.7 L192.8,702.5 L192.8,703.8 L187.9,706.0Z" fill="#dcc04c" />
<path d="M182.5,701.2 L187.9,704.7 L192.8,702.5 L187.4,699.0Z" fill="#f1db62" />
<path d="M119.7,655.9 L196.7,705.0 L196.7,706.3 L119.7,657.1Z" fill="#c9aa3c" />
<path d="M196.7,705.0 L202.2,702.6 L202.2,703.9 L196.7,706.3Z" fill="#dcc04c" />
<path d="M119.7,655.9 L196.7,705.0 L202.2,702.6 L125.2,653.5Z" fill="#f1db62" />
<path d="M161.8,712.3 L176.5,722.4 L176.5,723.9 L161.8,713.8Z" fill="#c9aa3c" />
<path d="M176.5,722.4 L187.5,717.6 L187.5,719.1 L176.5,723.9Z" fill="#dcc04c" />
<path d="M161.8,712.3 L176.5,722.4 L187.5,717.6 L172.8,707.6Z" fill="#f1db62" />
<path d="M176.5,703.2 L191.2,713.2 L191.2,714.7 L176.5,704.6Z" fill="#c9aa3c" />
<path d="M191.2,713.2 L202.2,708.5 L202.2,709.9 L191.2,714.7Z" fill="#dcc04c" />
<path d="M176.5,703.2 L191.2,713.2 L202.2,708.5 L187.5,698.4Z" fill="#f1db62" />
<path d="M192.1,694.9 L205.8,704.4 L205.8,705.9 L192.1,696.4Z" fill="#c9aa3c" />
<path d="M205.8,704.4 L216.8,699.7 L216.8,701.1 L205.8,705.9Z" fill="#dcc04c" />
<path d="M192.1,694.9 L205.8,704.4 L216.8,699.7 L203.1,690.1Z" fill="#f1db62" />
<path d="M206.7,686.7 L220.5,696.2 L220.5,697.7 L206.7,688.1Z" fill="#c9aa3c" />
<path d="M220.5,696.2 L231.5,691.4 L231.5,692.9 L220.5,697.7Z" fill="#dcc04c" />
<path d="M206.7,686.7 L220.5,696.2 L231.5,691.4 L217.7,681.9Z" fill="#f1db62" />
<path d="M94.9,645.4 L167.3,688.5 L167.3,690.9 L94.9,647.8Z" fill="#c6c6ca" fill-opacity="0.92"/>
<path d="M167.3,688.5 L171.9,686.7 L171.9,689.0 L167.3,690.9Z" fill="#dadadd" fill-opacity="0.92"/>
<path d="M94.9,645.4 L167.3,688.5 L171.9,686.7 L99.5,643.6Z" fill="#f1f1f2" fill-opacity="0.92"/>
<path d="M105.9,642.3 L178.3,682.6 L178.3,685.0 L105.9,644.7Z" fill="#c6c6ca" fill-opacity="0.92"/>
<path d="M178.3,682.6 L182.9,680.8 L182.9,683.2 L178.3,685.0Z" fill="#dadadd" fill-opacity="0.92"/>
<path d="M105.9,642.3 L178.3,682.6 L182.9,680.8 L110.5,640.5Z" fill="#f1f1f2" fill-opacity="0.92"/>
<path d="M116.9,639.0 L191.2,676.6 L191.2,679.0 L116.9,641.4Z" fill="#c6c6ca" fill-opacity="0.92"/>
<path d="M191.2,676.6 L195.7,674.7 L195.7,677.1 L191.2,679.0Z" fill="#dadadd" fill-opacity="0.92"/>
<path d="M116.9,639.0 L191.2,676.6 L195.7,674.7 L121.5,637.2Z" fill="#f1f1f2" fill-opacity="0.92"/>
<path d="M128.8,635.7 L202.2,670.5 L202.2,672.9 L128.8,638.1Z" fill="#c6c6ca" fill-opacity="0.92"/>
<path d="M202.2,670.5 L206.7,668.7 L206.7,671.1 L202.2,672.9Z" fill="#dadadd" fill-opacity="0.92"/>
<path d="M128.8,635.7 L202.2,670.5 L206.7,668.7 L133.4,633.9Z" fill="#f1f1f2" fill-opacity="0.92"/>
<path d="M139.8,632.6 L212.2,664.7 L212.2,667.0 L139.8,635.0Z" fill="#c6c6ca" fill-opacity="0.92"/>
<path d="M212.2,664.7 L216.8,662.8 L216.8,665.2 L212.2,667.0Z" fill="#dadadd" fill-opacity="0.92"/>
<path d="M139.8,632.6 L212.2,664.7 L216.8,662.8 L144.4,630.7Z" fill="#f1f1f2" fill-opacity="0.92"/>
<path d="M100.6,634.2 L163.7,615.5 L163.7,617.9 L100.6,636.6Z" fill="#c9aa3c" />
<path d="M95.5,631.7 L100.6,634.2 L100.6,636.6 L95.5,634.0Z" fill="#dcc04c" />
<path d="M95.5,631.7 L158.5,613.0 L163.7,615.5 L100.6,634.2Z" fill="#f1db62" />
<path d="M113.4,641.2 L177.6,621.4 L177.6,623.8 L113.4,643.6Z" fill="#c9aa3c" />
<path d="M108.3,638.6 L113.4,641.2 L113.4,643.6 L108.3,641.0Z" fill="#dcc04c" />
<path d="M108.3,638.6 L172.5,618.8 L177.6,621.4 L113.4,641.2Z" fill="#f1db62" />
<path d="M127.0,648.9 L191.7,627.8 L191.7,630.2 L127.0,651.3Z" fill="#c9aa3c" />
<path d="M121.9,646.3 L127.0,648.9 L127.0,651.3 L121.9,648.7Z" fill="#dcc04c" />
<path d="M121.9,646.3 L186.6,625.2 L191.7,627.8 L127.0,648.9Z" fill="#f1db62" />
<path d="M142.2,657.1 L208.2,633.3 L208.2,635.7 L142.2,659.5Z" fill="#c9aa3c" />
<path d="M137.1,654.6 L142.2,657.1 L142.2,659.5 L137.1,657.0Z" fill="#dcc04c" />
<path d="M137.1,654.6 L203.1,630.7 L208.2,633.3 L142.2,657.1Z" fill="#f1db62" />
<path d="M159.6,667.2 L226.0,640.5 L226.0,642.8 L159.6,669.6Z" fill="#c9aa3c" />
<path d="M154.1,664.3 L159.6,667.2 L159.6,669.6 L154.1,666.7Z" fill="#dcc04c" />
<path d="M154.1,664.3 L220.5,637.5 L226.0,640.5 L159.6,667.2Z" fill="#f1db62" />
<path d="M216.8,642.3 L225.6,638.6 L225.6,641.0 L216.8,644.7Z" fill="#c9aa3c" />
<path d="M206.2,637.5 L216.8,642.3 L216.8,644.7 L206.2,639.9Z" fill="#dcc04c" />
<path d="M206.2,637.5 L215.0,633.9 L225.6,638.6 L216.8,642.3Z" fill="#f1db62" />
<path d="M91.4,618.5 L96.2,620.7 L96.2,624.7 L91.4,622.5Z" fill="#4fae4c" />
<path d="M96.2,620.7 L99.5,619.2 L99.5,623.2 L96.2,624.7Z" fill="#3f9a40" />
<path d="M91.4,618.5 L94.7,617.0 L99.5,619.2 L96.2,620.7Z" fill="#86dc78" />
<path d="M104.3,615.2 L109.0,617.4 L109.0,621.4 L104.3,619.2Z" fill="#4fae4c" />
<path d="M109.0,617.4 L112.3,615.9 L112.3,619.9 L109.0,621.4Z" fill="#3f9a40" />
<path d="M104.3,615.2 L107.6,613.7 L112.3,615.9 L109.0,617.4Z" fill="#86dc78" />
<path d="M116.0,612.0 L120.8,614.2 L120.8,618.3 L116.0,616.1Z" fill="#4fae4c" />
<path d="M120.8,614.2 L124.1,612.8 L124.1,616.8 L120.8,618.3Z" fill="#3f9a40" />
<path d="M116.0,612.0 L119.3,610.6 L124.1,612.8 L120.8,614.2Z" fill="#86dc78" />
<path d="M127.2,608.9 L131.9,611.1 L131.9,615.2 L127.2,613.0Z" fill="#4fae4c" />
<path d="M131.9,611.1 L135.2,609.7 L135.2,613.7 L131.9,615.2Z" fill="#3f9a40" />
<path d="M127.2,608.9 L130.5,607.5 L135.2,609.7 L131.9,611.1Z" fill="#86dc78" />
<path d="M138.0,606.2 L142.8,608.4 L142.8,612.4 L138.0,610.2Z" fill="#4fae4c" />
<path d="M142.8,608.4 L146.1,606.9 L146.1,610.9 L142.8,612.4Z" fill="#3f9a40" />
<path d="M138.0,606.2 L141.3,604.7 L146.1,606.9 L142.8,608.4Z" fill="#86dc78" />
<path d="M104.3,624.9 L109.0,627.1 L109.0,631.1 L104.3,628.9Z" fill="#4fae4c" />
<path d="M109.0,627.1 L112.3,625.6 L112.3,629.6 L109.0,631.1Z" fill="#3f9a40" />
<path d="M104.3,624.9 L107.6,623.4 L112.3,625.6 L109.0,627.1Z" fill="#86dc78" />
<path d="M117.1,621.2 L121.9,623.4 L121.9,627.4 L117.1,625.2Z" fill="#4fae4c" />
<path d="M121.9,623.4 L125.2,621.9 L125.2,626.0 L121.9,627.4Z" fill="#3f9a40" />
<path d="M117.1,621.2 L120.4,619.7 L125.2,621.9 L121.9,623.4Z" fill="#86dc78" />
<path d="M128.8,617.5 L133.6,619.7 L133.6,623.8 L128.8,621.6Z" fill="#4fae4c" />
<path d="M133.6,619.7 L136.9,618.3 L136.9,622.3 L133.6,623.8Z" fill="#3f9a40" />
<path d="M128.8,617.5 L132.1,616.1 L136.9,618.3 L133.6,619.7Z" fill="#86dc78" />
<path d="M140.4,614.4 L145.1,616.6 L145.1,620.7 L140.4,618.5Z" fill="#4fae4c" />
<path d="M145.1,616.6 L148.4,615.2 L148.4,619.2 L145.1,620.7Z" fill="#3f9a40" />
<path d="M140.4,614.4 L143.7,613.0 L148.4,615.2 L145.1,616.6Z" fill="#86dc78" />
<path d="M151.4,611.5 L156.1,613.7 L156.1,617.7 L151.4,615.5Z" fill="#4fae4c" />
<path d="M156.1,613.7 L159.4,612.2 L159.4,616.3 L156.1,617.7Z" fill="#3f9a40" />
<path d="M151.4,611.5 L154.7,610.0 L159.4,612.2 L156.1,613.7Z" fill="#86dc78" />
<path d="M117.8,632.2 L122.6,634.4 L122.6,638.4 L117.8,636.2Z" fill="#4fae4c" />
<path d="M122.6,634.4 L125.9,632.9 L125.9,637.0 L122.6,638.4Z" fill="#3f9a40" />
<path d="M117.8,632.2 L121.1,630.7 L125.9,632.9 L122.6,634.4Z" fill="#86dc78" />
<path d="M130.7,627.6 L135.4,629.8 L135.4,633.9 L130.7,631.7Z" fill="#4fae4c" />
<path d="M135.4,629.8 L138.7,628.4 L138.7,632.4 L135.4,633.9Z" fill="#3f9a40" />
<path d="M130.7,627.6 L134.0,626.2 L138.7,628.4 L135.4,629.8Z" fill="#86dc78" />
<path d="M143.1,624.0 L147.9,626.2 L147.9,630.2 L143.1,628.0Z" fill="#4fae4c" />
<path d="M147.9,626.2 L151.2,624.7 L151.2,628.7 L147.9,630.2Z" fill="#3f9a40" />
<path d="M143.1,624.0 L146.4,622.5 L151.2,624.7 L147.9,626.2Z" fill="#86dc78" />
<path d="M155.0,620.3 L159.8,622.5 L159.8,626.5 L155.0,624.3Z" fill="#4fae4c" />
<path d="M159.8,622.5 L163.1,621.0 L163.1,625.1 L159.8,626.5Z" fill="#3f9a40" />
<path d="M155.0,620.3 L158.3,618.8 L163.1,621.0 L159.8,622.5Z" fill="#86dc78" />
<path d="M166.0,617.0 L170.8,619.2 L170.8,623.2 L166.0,621.0Z" fill="#4fae4c" />
<path d="M170.8,619.2 L174.1,617.7 L174.1,621.8 L170.8,623.2Z" fill="#3f9a40" />
<path d="M166.0,617.0 L169.3,615.5 L174.1,617.7 L170.8,619.2Z" fill="#86dc78" />
<path d="M133.6,639.5 L138.4,641.7 L138.4,645.8 L133.6,643.6Z" fill="#4fae4c" />
<path d="M138.4,641.7 L141.7,640.3 L141.7,644.3 L138.4,645.8Z" fill="#3f9a40" />
<path d="M133.6,639.5 L136.9,638.1 L141.7,640.3 L138.4,641.7Z" fill="#86dc78" />
<path d="M147.2,635.0 L151.9,637.2 L151.9,641.2 L147.2,639.0Z" fill="#4fae4c" />
<path d="M151.9,637.2 L155.2,635.7 L155.2,639.7 L151.9,641.2Z" fill="#3f9a40" />
<path d="M147.2,635.0 L150.5,633.5 L155.2,635.7 L151.9,637.2Z" fill="#86dc78" />
<path d="M159.3,630.9 L164.0,633.1 L164.0,637.2 L159.3,635.0Z" fill="#4fae4c" />
<path d="M164.0,633.1 L167.3,631.7 L167.3,635.7 L164.0,637.2Z" fill="#3f9a40" />
<path d="M159.3,630.9 L162.6,629.5 L167.3,631.7 L164.0,633.1Z" fill="#86dc78" />
<path d="M171.0,627.3 L175.8,629.5 L175.8,633.5 L171.0,631.3Z" fill="#4fae4c" />
<path d="M175.8,629.5 L179.1,628.0 L179.1,632.0 L175.8,633.5Z" fill="#3f9a40" />
<path d="M171.0,627.3 L174.3,625.8 L179.1,628.0 L175.8,629.5Z" fill="#86dc78" />
<path d="M182.0,623.0 L186.8,625.2 L186.8,629.3 L182.0,627.1Z" fill="#4fae4c" />
<path d="M186.8,625.2 L190.1,623.8 L190.1,627.8 L186.8,629.3Z" fill="#3f9a40" />
<path d="M182.0,623.0 L185.3,621.6 L190.1,623.8 L186.8,625.2Z" fill="#86dc78" />
<path d="M150.8,648.2 L155.6,650.4 L155.6,654.4 L150.8,652.2Z" fill="#4fae4c" />
<path d="M155.6,650.4 L158.9,648.9 L158.9,652.9 L155.6,654.4Z" fill="#3f9a40" />
<path d="M150.8,648.2 L154.1,646.7 L158.9,648.9 L155.6,650.4Z" fill="#86dc78" />
<path d="M164.2,643.2 L169.0,645.4 L169.0,649.4 L164.2,647.2Z" fill="#4fae4c" />
<path d="M169.0,645.4 L172.3,643.9 L172.3,648.0 L169.0,649.4Z" fill="#3f9a40" />
<path d="M164.2,643.2 L167.5,641.7 L172.3,643.9 L169.0,645.4Z" fill="#86dc78" />
<path d="M176.5,638.6 L181.3,640.8 L181.3,644.9 L176.5,642.7Z" fill="#4fae4c" />
<path d="M181.3,640.8 L184.6,639.4 L184.6,643.4 L181.3,644.9Z" fill="#3f9a40" />
<path d="M176.5,638.6 L179.8,637.2 L184.6,639.4 L181.3,640.8Z" fill="#86dc78" />
<path d="M188.6,633.7 L193.4,635.9 L193.4,639.9 L188.6,637.7Z" fill="#4fae4c" />
<path d="M193.4,635.9 L196.7,634.4 L196.7,638.4 L193.4,639.9Z" fill="#3f9a40" />
<path d="M188.6,633.7 L191.9,632.2 L196.7,634.4 L193.4,635.9Z" fill="#86dc78" />
<path d="M199.6,629.8 L204.4,632.0 L204.4,636.1 L199.6,633.9Z" fill="#4fae4c" />
<path d="M204.4,632.0 L207.7,630.6 L207.7,634.6 L204.4,636.1Z" fill="#3f9a40" />
<path d="M199.6,629.8 L202.9,628.4 L207.7,630.6 L204.4,632.0Z" fill="#86dc78" />
</g>

<!-- ================= PANEL E ================= -->
<g id="panelE">
<rect x="607" y="303" width="651" height="706" fill="#fff"/>
<text x="610.5" y="331.5" font-size="43" fill="#000" font-weight="bold" text-anchor="start" >e</text>
<rect x="677.3" y="316.5" width="114.2" height="33.8" fill="#ececec"/>
<rect x="791.3" y="316.5" width="112.1" height="33.8" fill="#dcf3e8"/>
<rect x="903.2" y="316.5" width="111" height="33.8" fill="#afe6fa"/>
<rect x="1014" y="316.5" width="111.3" height="33.8" fill="#ffe1bb"/>
<path d="M1125.1,316.5 H1194.8 V304.8 L1256.6,348.6 V350.3 H1125.1Z" fill="#fad5d9"/>
<text x="716.4" y="342.4" font-size="25" fill="#555" font-weight="bold" text-anchor="start" textLength="40.8" lengthAdjust="spacingAndGlyphs" >SSI</text>
<text x="824.4" y="342.4" font-size="25" fill="#3aaa4a" font-weight="bold" text-anchor="start" textLength="43.4" lengthAdjust="spacingAndGlyphs" >MSI</text>
<text x="936.2" y="342.4" font-size="25" fill="#1a72c0" font-weight="bold" text-anchor="start" textLength="37.4" lengthAdjust="spacingAndGlyphs" >LSI</text>
<text x="1040.5" y="342.4" font-size="25" fill="#f05c28" font-weight="bold" text-anchor="start" textLength="56.1" lengthAdjust="spacingAndGlyphs" >VLSI</text>
<text x="1149.4" y="342.4" font-size="25" fill="#c92a3c" font-weight="bold" text-anchor="start" textLength="57.4" lengthAdjust="spacingAndGlyphs" >ULSI</text>
<text x="671.5" y="371.3" font-size="22" fill="#111" font-weight="normal" text-anchor="start"  stroke="#111" stroke-width="0.3">2<tspan font-size="13" dy="-8.5">0</tspan></text>
<text x="784.7" y="371.3" font-size="22" fill="#111" font-weight="normal" text-anchor="start"  stroke="#111" stroke-width="0.3">2<tspan font-size="13" dy="-8.5">6</tspan></text>
<text x="898.4" y="371.3" font-size="22" fill="#111" font-weight="normal" text-anchor="start"  stroke="#111" stroke-width="0.3">2<tspan font-size="13" dy="-8.5">11</tspan></text>
<text x="1007.9" y="371.3" font-size="22" fill="#111" font-weight="normal" text-anchor="start"  stroke="#111" stroke-width="0.3">2<tspan font-size="13" dy="-8.5">16</tspan></text>
<text x="1121.5" y="371.3" font-size="22" fill="#111" font-weight="normal" text-anchor="start"  stroke="#111" stroke-width="0.3">2<tspan font-size="13" dy="-8.5">21</tspan></text>
<text x="785.4" y="396.5" font-size="24.5" fill="#111" font-weight="normal" text-anchor="start" textLength="333.8" lengthAdjust="spacingAndGlyphs"  stroke="#111" stroke-width="0.3">Integration level (units chip<tspan font-size="15" dy="-9">−1</tspan><tspan dy="9">)</tspan></text>
<clipPath id="plotcp"><rect x="690" y="411.3" width="562" height="535"/></clipPath>
<g clip-path="url(#plotcp)">
<ellipse cx="1039.5" cy="479" rx="203" ry="44" fill="#fce0e3" transform="rotate(-2.5 1039.5 479)"/>
<ellipse cx="734" cy="530.6" rx="30.6" ry="24.5" fill="#fde1bc"/>
<path d="M1076.0,598.4 C1065.3,599.8 1052.8,602.1 1045.6,610.2 C1038.4,618.4 1033.4,633.8 1032.8,647.3 C1032.2,660.8 1035.1,673.7 1042.2,691.1 C1049.4,708.5 1061.9,729.3 1076.0,751.8 C1090.0,774.3 1112.5,809.1 1126.5,826.0 C1140.6,842.8 1149.0,847.3 1160.2,852.9 C1171.5,858.5 1184.4,860.8 1193.9,859.7 C1203.5,858.5 1211.9,854.6 1217.5,846.2 C1223.1,837.8 1226.5,821.5 1227.6,809.1 C1228.8,796.7 1227.6,786.6 1224.3,772.0 C1220.9,757.4 1215.3,739.4 1207.4,721.5 C1199.5,703.5 1187.7,681.0 1177.1,664.2 C1166.4,647.3 1154.6,630.7 1143.4,620.3 C1132.1,609.9 1120.9,605.4 1109.7,601.8 C1098.4,598.1 1086.6,597.0 1076.0,598.4Z" fill="#def3ea"/>
<path d="M856.2,684.4 C856.7,672.6 861.8,656.9 870.3,647.3 C878.9,637.8 890.0,628.2 907.4,627.1 C924.8,626.0 952.4,631.6 974.8,640.6 C997.3,649.5 1022.0,665.8 1042.2,681.0 C1062.5,696.2 1080.4,713.0 1096.2,731.6 C1111.9,750.1 1127.1,773.1 1136.6,792.2 C1146.2,811.3 1151.0,831.0 1153.5,846.2 C1156.0,861.3 1154.6,873.7 1151.8,883.3 C1149.0,892.8 1143.6,899.3 1136.6,903.5 C1129.6,907.7 1125.4,910.2 1109.7,908.5 C1093.9,906.9 1064.7,903.2 1042.2,893.4 C1019.8,883.5 997.3,868.6 974.8,849.5 C952.4,830.4 925.4,800.7 907.4,778.8 C889.4,756.9 875.5,733.8 867.0,718.1 C858.4,702.4 855.6,696.2 856.2,684.4Z" fill="#ececec"/>
<path d="M1101.2,630.4 C1100.7,622.0 1102.6,610.1 1106.3,603.5 C1109.9,596.9 1117.0,592.4 1123.1,590.7 C1129.3,589.0 1135.5,588.4 1143.4,593.4 C1151.2,598.3 1161.3,608.5 1170.3,620.3 C1179.3,632.1 1191.1,650.7 1197.3,664.2 C1203.5,677.6 1206.8,691.7 1207.4,701.2 C1208.0,710.8 1204.0,717.4 1200.7,721.5 C1197.3,725.5 1193.4,726.6 1187.2,725.5 C1181.0,724.4 1173.1,722.1 1163.6,714.7 C1154.0,707.3 1138.9,691.1 1129.9,681.0 C1120.9,670.9 1114.4,662.5 1109.7,654.0 C1104.9,645.6 1101.8,638.9 1101.2,630.4Z" fill="#9fe2f9" fill-opacity="0.93"/>
</g>
<path d="M690.0,545.2 H720.1 M748.7,545.2 H779.2 M807.8,545.2 H838.3 M866.9,545.2 H897.4 M926.0,545.2 H956.5 M985.1,545.2 H1015.6 M1044.2,545.2 H1074.7 M1103.3,545.2 H1133.8 M1162.4,545.2 H1192.9 M1221.5,545.2 H1251.5" stroke="#2a98d2" stroke-width="3.8" fill="none"/>
<text x="698.2" y="435.8" font-size="25" fill="#1414ff" font-weight="normal" text-anchor="start" textLength="303.5" lengthAdjust="spacingAndGlyphs"  stroke="#1414ff" stroke-width="0.3">Commercial imaging chips</text>
<text x="789.7" y="466.1" font-size="21.5" fill="#111" font-weight="normal" text-anchor="start" textLength="106.6" lengthAdjust="spacingAndGlyphs"  stroke="#111" stroke-width="0.3">Sony A900</text>
<text x="698.1" y="509.8" font-size="22" fill="#111" font-weight="normal" text-anchor="start" textLength="157.7" lengthAdjust="spacingAndGlyphs"  stroke="#111" stroke-width="0.3">Kodak DCS 100</text>
<text x="883.0" y="499.1" font-size="22" fill="#111" font-weight="normal" text-anchor="start" textLength="115.1" lengthAdjust="spacingAndGlyphs"  stroke="#111" stroke-width="0.3">Nikon D800</text>
<text x="1005.1" y="487.3" font-size="21.8" fill="#111" font-weight="normal" text-anchor="start" textLength="98.2" lengthAdjust="spacingAndGlyphs"  stroke="#111" stroke-width="0.3">Sony A7R</text>
<text x="1094.4" y="458.6" font-size="22" fill="#111" font-weight="normal" text-anchor="start" textLength="88.4" lengthAdjust="spacingAndGlyphs"  stroke="#111" stroke-width="0.3">Nikon Z8</text>
<text x="970.8" y="466.1" font-size="25" fill="#c92a3c" font-weight="bold" text-anchor="start" textLength="57.5" lengthAdjust="spacingAndGlyphs" >ULSI</text>
<text x="736.4" y="570.5" font-size="24.7" fill="#a87438" font-weight="bold" text-anchor="start" textLength="54.9" lengthAdjust="spacingAndGlyphs" >VLSI</text>
<text x="875.8" y="587.9" font-size="21.5" fill="#111" font-weight="normal" text-anchor="start" textLength="62.6" lengthAdjust="spacingAndGlyphs"  stroke="#111" stroke-width="0.3">Retina</text>
<text x="1056.2" y="515.0" font-size="22" fill="#f2202e" font-weight="normal" text-anchor="start" textLength="189.7" lengthAdjust="spacingAndGlyphs"  stroke="#f2202e" stroke-width="0.3">PQD-<tspan stroke="#f2202e" stroke-width="0.7">nanoce</tspan>ll OPT</text>
<text x="1078.2" y="530.3" font-size="18" fill="#f04452" font-weight="normal" text-anchor="start" textLength="145.9" lengthAdjust="spacingAndGlyphs"  stroke="#f04452" stroke-width="0.3">(matrix and array)</text>
<line x1="867.8" y1="574.5" x2="849" y2="556.8" stroke="#111" stroke-width="1.6"/>
<path d="M845.1,553.2 L856.2,557.2 L850.3,563.6Z" fill="#111"/>
<path d="M734.6,511.9 L746.6,532.4 L723.1,532.4Z" fill="#050505"/>
<path d="M863.8,469.8 L875.8,490 L851.8,490Z" fill="#1a0404"/>
<path d="M949.9,458.6 L961.9,478.7 L938.1,478.7Z" fill="#1a0404"/>
<path d="M1057.3,451.1 L1069.3,471.1 L1045.6,471.1Z" fill="#1a0404"/>
<path d="M1187,451.1 L1199,471.1 L1175.3,471.1Z" fill="#1a0404"/>
<polygon points="1207.9,461.3 1212.6,473.3 1225.5,474.1 1215.5,482.3 1218.8,494.8 1207.9,487.8 1197.0,494.8 1200.3,482.3 1190.3,474.1 1203.2,473.3" fill="#ff1212"/>
<circle cx="885.1" cy="733.4" r="10.6" fill="#ff7f0e"/>
<circle cx="971.6" cy="652.2" r="11.6" fill="#800000"/>
<circle cx="1056.7" cy="620.7" r="10.6" fill="#a87c1a"/>
<rect x="1111.9" y="601.5" width="20.2" height="20.2" rx="1" fill="#800080"/>
<circle cx="1142.7" cy="631.8" r="13.5" fill="#e2f4ea"/>
<rect x="1133.7" y="621.2" width="21" height="21" rx="1" fill="#800000"/>
<circle cx="1121.5" cy="650" r="10.6" fill="#ff7f0e"/>
<circle cx="1186.7" cy="710.5" r="10.6" fill="#008000"/>
<rect x="1155.0" y="746.2" width="20.2" height="20.2" rx="1" fill="#a87c1a"/>
<circle cx="1014.3" cy="789.5" r="10.6" fill="#ff7f0e"/>
<circle cx="1056.7" cy="788.7" r="10.6" fill="#000080"/>
<rect x="1047.0" y="791.5" width="20.2" height="20.2" rx="1" fill="#1de9a0"/>
<circle cx="1079" cy="789.5" r="11.6" fill="#800000"/>
<rect x="1111.9" y="779.0" width="20.2" height="20.2" rx="1" fill="#ff7f0e"/>
<rect x="1155.0" y="790.6" width="20.2" height="20.2" rx="1" fill="#1de9a0"/>
<circle cx="1079" cy="824.9" r="10.2" fill="#ff7f0e"/>
<rect x="1069.8" y="821.0" width="19.8" height="19.8" rx="1" fill="#ff7f0e"/>
<circle cx="1143.2" cy="831" r="10.6" fill="#1de9a0"/>
<rect x="1155.0" y="829.1" width="20.2" height="20.2" rx="1" fill="#ff7f0e"/>
<rect x="1176.8" y="833.9" width="20.8" height="20.8" rx="1" fill="#ff7f0e"/>
<circle cx="1079" cy="879.3" r="10.6" fill="#800080"/>
<circle cx="1121.5" cy="894.6" r="10.6" fill="#800080"/>
<text x="1156.6" y="666.7" font-size="24.5" fill="#1a72c0" font-weight="bold" text-anchor="start" textLength="38.2" lengthAdjust="spacingAndGlyphs" >LSI</text>
<text x="1117.5" y="737.9" font-size="24.5" fill="#0c8a4c" font-weight="bold" text-anchor="start" textLength="43.9" lengthAdjust="spacingAndGlyphs" >MSI</text>
<text x="954.0" y="774.7" font-size="24.5" fill="#555" font-weight="bold" text-anchor="start" textLength="40.8" lengthAdjust="spacingAndGlyphs" >SSI</text>
<text x="702.1" y="692.6" font-size="25" fill="#1414ff" font-weight="normal" text-anchor="start" textLength="89.7" lengthAdjust="spacingAndGlyphs"  stroke="#1414ff" stroke-width="0.3">Organic</text>
<text x="702.6" y="723.2" font-size="25" fill="#1414ff" font-weight="normal" text-anchor="start" textLength="156.4" lengthAdjust="spacingAndGlyphs"  stroke="#1414ff" stroke-width="0.3">imaging chips</text>
<circle cx="704.4" cy="742.5" r="8.2" fill="#800000"/>
<rect x="715.1" y="734.7" width="15.6" height="15.6" rx="1" fill="#800000"/>
<text x="735.0" y="749.2" font-size="22" fill="#111" font-weight="normal" text-anchor="start" textLength="134.1" lengthAdjust="spacingAndGlyphs"  stroke="#111" stroke-width="0.3">Spray coating</text>
<circle cx="704.4" cy="773.9" r="8.2" fill="#ff7f0e"/>
<rect x="715.1" y="766.1" width="15.6" height="15.6" rx="1" fill="#ff7f0e"/>
<text x="735.0" y="780.6" font-size="22" fill="#111" font-weight="normal" text-anchor="start" textLength="130.9" lengthAdjust="spacingAndGlyphs"  stroke="#111" stroke-width="0.3">Inkjet printing</text>
<circle cx="704.4" cy="805.3" r="8.2" fill="#000080"/>
<rect x="715.1" y="797.5" width="15.6" height="15.6" rx="1" fill="#000080"/>
<text x="735.0" y="812.0" font-size="22" fill="#111" font-weight="normal" text-anchor="start" textLength="132.8" lengthAdjust="spacingAndGlyphs"  stroke="#111" stroke-width="0.3">Blade coating</text>
<circle cx="704.4" cy="836.7" r="8.2" fill="#800080"/>
<rect x="715.1" y="828.9" width="15.6" height="15.6" rx="1" fill="#800080"/>
<text x="735.0" y="843.4" font-size="22" fill="#111" font-weight="normal" text-anchor="start" textLength="106.9" lengthAdjust="spacingAndGlyphs"  stroke="#111" stroke-width="0.3">Lamination</text>
<circle cx="704.4" cy="868.1" r="8.2" fill="#1de9a0"/>
<rect x="715.1" y="860.3" width="15.6" height="15.6" rx="1" fill="#1de9a0"/>
<text x="735.0" y="874.8" font-size="22" fill="#111" font-weight="normal" text-anchor="start" textLength="159.4" lengthAdjust="spacingAndGlyphs"  stroke="#111" stroke-width="0.3">Transfer printing</text>
<circle cx="704.4" cy="899.5" r="8.2" fill="#a87c1a"/>
<rect x="715.1" y="891.7" width="15.6" height="15.6" rx="1" fill="#a87c1a"/>
<text x="735.0" y="906.2" font-size="22" fill="#111" font-weight="normal" text-anchor="start" textLength="164.8" lengthAdjust="spacingAndGlyphs"  stroke="#111" stroke-width="0.3">Photolithography</text>
<circle cx="704.4" cy="930.9" r="8.2" fill="#008000"/>
<rect x="715.1" y="923.1" width="15.6" height="15.6" rx="1" fill="#008000"/>
<text x="735.0" y="937.6" font-size="22" fill="#111" font-weight="normal" text-anchor="start" textLength="129.3" lengthAdjust="spacingAndGlyphs"  stroke="#111" stroke-width="0.3">Mask etching</text>
<rect x="1074.2" y="920.4" width="17" height="17" fill="none" stroke="#111" stroke-width="1.4"/>
<text x="1098.0" y="936.5" font-size="21.5" fill="#111" font-weight="normal" text-anchor="start" textLength="59.2" lengthAdjust="spacingAndGlyphs"  stroke="#111" stroke-width="0.3">Matrix</text>
<circle cx="1176.1" cy="928.7" r="8.8" fill="none" stroke="#111" stroke-width="1.4"/>
<text x="1190.6" y="936.5" font-size="21.5" fill="#111" font-weight="normal" text-anchor="start" textLength="51.7" lengthAdjust="spacingAndGlyphs"  stroke="#111" stroke-width="0.3">Array</text>
<rect x="689.9" y="411.3" width="562.2" height="535.2" fill="none" stroke="#000" stroke-width="3.6"/>
<path d="M682.4,448.0 H689 M685.6,427.5 H689 M685.6,495.7 H689 M685.6,475.1 H689 M685.6,463.1 H689 M685.6,454.6 H689 M685.6,516.2 H689 M682.4,584.4 H689 M685.6,563.9 H689 M685.6,543.3 H689 M685.6,531.3 H689 M685.6,522.8 H689 M685.6,632.1 H689 M685.6,611.5 H689 M685.6,599.5 H689 M685.6,591.0 H689 M685.6,652.6 H689 M682.4,720.8 H689 M685.6,700.3 H689 M685.6,679.7 H689 M685.6,667.7 H689 M685.6,659.2 H689 M685.6,768.5 H689 M685.6,747.9 H689 M685.6,735.9 H689 M685.6,727.4 H689 M685.6,789.0 H689 M682.4,857.2 H689 M685.6,836.7 H689 M685.6,816.1 H689 M685.6,804.1 H689 M685.6,795.6 H689 M685.6,904.9 H689 M685.6,884.3 H689 M685.6,872.3 H689 M685.6,863.8 H689 M685.6,925.4 H689" stroke="#000" stroke-width="2.6" fill="none"/>
<text x="643.6" y="452.7" font-size="25.3" fill="#111" font-weight="normal" text-anchor="start" textLength="35.5" lengthAdjust="spacingAndGlyphs"  stroke="#111" stroke-width="0.3">10<tspan font-size="15" dy="-10.5">7</tspan></text>
<text x="643.6" y="589.1" font-size="25.3" fill="#111" font-weight="normal" text-anchor="start" textLength="35.5" lengthAdjust="spacingAndGlyphs"  stroke="#111" stroke-width="0.3">10<tspan font-size="15" dy="-10.5">5</tspan></text>
<text x="643.6" y="725.5" font-size="25.3" fill="#111" font-weight="normal" text-anchor="start" textLength="35.5" lengthAdjust="spacingAndGlyphs"  stroke="#111" stroke-width="0.3">10<tspan font-size="15" dy="-10.5">3</tspan></text>
<text x="643.6" y="861.9" font-size="25.3" fill="#111" font-weight="normal" text-anchor="start" textLength="35.5" lengthAdjust="spacingAndGlyphs"  stroke="#111" stroke-width="0.3">10<tspan font-size="15" dy="-10.5">1</tspan></text>
<line x1="732.7" y1="947" x2="732.7" y2="953.5" stroke="#000" stroke-width="2.6"/>
<line x1="884.6" y1="947" x2="884.6" y2="953.5" stroke="#000" stroke-width="2.6"/>
<line x1="1035.8" y1="947" x2="1035.8" y2="953.5" stroke="#000" stroke-width="2.6"/>
<line x1="1186.5" y1="947" x2="1186.5" y2="953.5" stroke="#000" stroke-width="2.6"/>
<text x="705.2" y="983.2" font-size="24" fill="#111" font-weight="normal" text-anchor="start" textLength="52.0" lengthAdjust="spacingAndGlyphs"  stroke="#111" stroke-width="0.3">1991</text>
<text x="855.3" y="983.2" font-size="24" fill="#111" font-weight="normal" text-anchor="start" textLength="55.1" lengthAdjust="spacingAndGlyphs"  stroke="#111" stroke-width="0.3">2009</text>
<text x="1007.0" y="983.2" font-size="24" fill="#111" font-weight="normal" text-anchor="start" textLength="56.7" lengthAdjust="spacingAndGlyphs"  stroke="#111" stroke-width="0.3">2016</text>
<text x="1158.6" y="983.2" font-size="24" fill="#111" font-weight="normal" text-anchor="start" textLength="56.6" lengthAdjust="spacingAndGlyphs"  stroke="#111" stroke-width="0.3">2023</text>
<text x="954.9" y="1003.4" font-size="24" fill="#111" font-weight="normal" text-anchor="start" textLength="50.2" lengthAdjust="spacingAndGlyphs"  stroke="#111" stroke-width="0.3">Year</text>
<rect x="766" y="943" width="17" height="7" fill="#fff"/>
<path d="M765.5,955.5 L774.5,941.5 M775.5,955.5 L784.5,941.5" stroke="#000" stroke-width="2" fill="none"/>
<text transform="translate(633.7 825) rotate(-90)" font-size="23.5" fill="#111" textLength="306.5" lengthAdjust="spacingAndGlyphs">Device density (units cm<tspan font-size="14.5" dy="-9">−2</tspan><tspan dy="9">)</tspan></text>
</g>
</svg>
</body>
</html>
